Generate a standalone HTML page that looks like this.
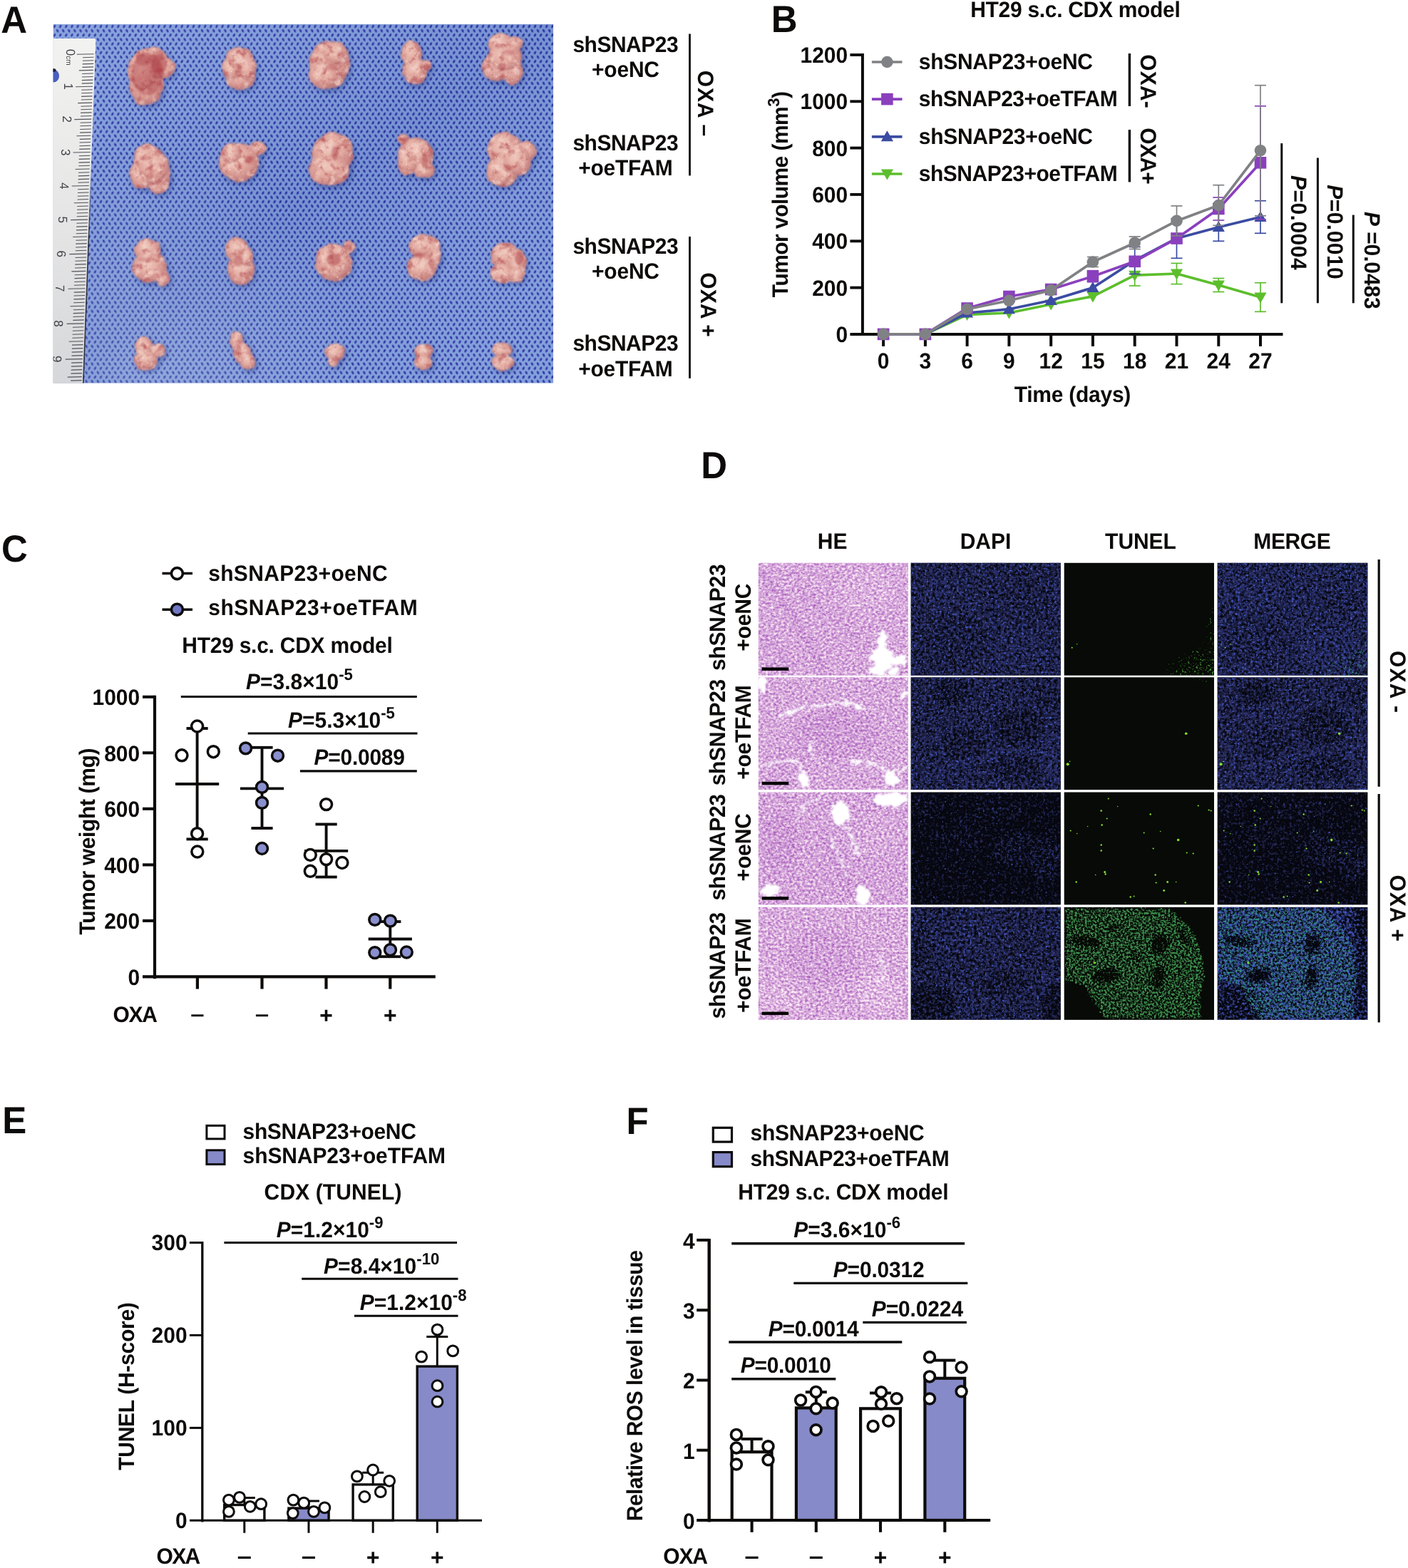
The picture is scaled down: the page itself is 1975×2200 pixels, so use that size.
<!DOCTYPE html>
<html lang="en"><head><meta charset="utf-8"><title>Figure</title>
<style>
html,body{margin:0;padding:0;background:#fff}
body{width:1975px;height:2200px;overflow:hidden}
svg{display:block}
</style></head><body>
<svg width="1975" height="2200" viewBox="0 0 1975 2200" font-family="'Liberation Sans', Arial, Helvetica, sans-serif" font-weight="bold" fill="#0d0b0a" text-rendering="geometricPrecision">
<defs>
<clipPath id="aclip"><rect x="74.5" y="34.0" width="701.8" height="503.7"/></clipPath>
<radialGradient id="dotg"><stop offset="0" stop-color="#28289c" stop-opacity="1"/><stop offset="0.5" stop-color="#2e34a6" stop-opacity="0.92"/><stop offset="1" stop-color="#4a68c0" stop-opacity="0"/></radialGradient>
<pattern id="cloth" x="74.5" y="34" width="8.12" height="12.3" patternUnits="userSpaceOnUse"><rect width="8.12" height="12.3" fill="#829fdb"/><ellipse cx="2.03" cy="3.07" rx="2.15" ry="3.5" fill="url(#dotg)" transform="rotate(28 2.03 3.07)"/><ellipse cx="6.09" cy="9.22" rx="2.15" ry="3.5" fill="url(#dotg)" transform="rotate(-28 6.09 9.22)"/></pattern>
<linearGradient id="clothsh" x1="0" y1="0" x2="1" y2="1"><stop offset="0" stop-color="#ffffff" stop-opacity="0.06"/><stop offset="0.5" stop-color="#1a2a80" stop-opacity="0.10"/><stop offset="1" stop-color="#ffffff" stop-opacity="0.02"/></linearGradient>
<radialGradient id="clothlt" cx="200" cy="520" r="300" gradientUnits="userSpaceOnUse"><stop offset="0" stop-color="#dfe8f8" stop-opacity="0.20"/><stop offset="1" stop-color="#dfe8f8" stop-opacity="0"/></radialGradient>
<linearGradient id="edgeg" x1="0" y1="240" x2="0" y2="340" gradientUnits="userSpaceOnUse"><stop offset="0" stop-color="#15151c" stop-opacity="0"/><stop offset="1" stop-color="#15151c" stop-opacity="0.8"/></linearGradient>
<linearGradient id="rulerg" x1="0" y1="0" x2="0" y2="1"><stop offset="0" stop-color="#f2f2f0"/><stop offset="0.5" stop-color="#e6e6e6"/><stop offset="1" stop-color="#d6d7da"/></linearGradient>
<radialGradient id="lobe" cx="0.42" cy="0.38" r="0.62"><stop offset="0" stop-color="#f0cbc0"/><stop offset="0.45" stop-color="#e5aea4"/><stop offset="0.85" stop-color="#d08f8a"/><stop offset="1" stop-color="#bd7a7a"/></radialGradient>
<filter id="tblur" x="-20%" y="-20%" width="140%" height="140%" color-interpolation-filters="sRGB"><feTurbulence type="fractalNoise" baseFrequency="0.07" numOctaves="2" seed="7" result="n"/><feDisplacementMap in="SourceGraphic" in2="n" scale="5" xChannelSelector="R" yChannelSelector="G" result="d"/><feGaussianBlur in="d" stdDeviation="0.8" result="db"/><feTurbulence type="fractalNoise" baseFrequency="0.10" numOctaves="3" seed="4" result="n2"/><feColorMatrix in="n2" type="matrix" values="0 0 0 0 0.70  0 0 0 0 0.30  0 0 0 0 0.32  2.0 0 0 0 -1.0" result="red"/><feComposite in="red" in2="db" operator="in" result="redc"/><feColorMatrix in="n2" type="matrix" values="0 0 0 0 0.97  0 0 0 0 0.86  0 0 0 0 0.82  0 2.0 0 0 -1.0" result="lit"/><feComposite in="lit" in2="db" operator="in" result="litc"/><feMorphology in="db" operator="erode" radius="3" result="core"/><feTurbulence type="fractalNoise" baseFrequency="0.45" numOctaves="2" seed="9" result="n3"/><feColorMatrix in="n3" type="matrix" values="0 0 0 0 1  0 0 0 0 0.97  0 0 0 0 0.95  7 0 0 0 -5.15" result="spec"/><feComposite in="spec" in2="core" operator="in" result="specc"/><feMerge><feMergeNode in="db"/><feMergeNode in="redc"/><feMergeNode in="litc"/><feMergeNode in="specc"/></feMerge></filter>
<filter id="b3" x="-30%" y="-30%" width="160%" height="160%"><feGaussianBlur stdDeviation="3"/></filter>
<filter id="b2" x="-30%" y="-30%" width="160%" height="160%"><feGaussianBlur stdDeviation="1.6"/></filter>
<filter id="b1" x="-30%" y="-30%" width="160%" height="160%"><feGaussianBlur stdDeviation="0.7"/></filter>
<filter id="voidf" x="-20%" y="-20%" width="140%" height="140%" color-interpolation-filters="sRGB"><feTurbulence type="fractalNoise" baseFrequency="0.12" numOctaves="3" seed="11" result="n"/><feDisplacementMap in="SourceGraphic" in2="n" scale="14" xChannelSelector="R" yChannelSelector="G" result="d"/><feGaussianBlur in="d" stdDeviation="0.8"/></filter>
<clipPath id="dc00"><rect x="1063.8" y="789.8" width="210.1" height="157.9"/></clipPath>
<clipPath id="dc01"><rect x="1277.7" y="789.8" width="210.2" height="157.9"/></clipPath>
<clipPath id="dc02"><rect x="1492.7" y="789.8" width="210.3" height="157.9"/></clipPath>
<clipPath id="dc03"><rect x="1707.7" y="789.8" width="210.7" height="157.9"/></clipPath>
<clipPath id="dc10"><rect x="1063.8" y="950.3" width="210.1" height="157.8"/></clipPath>
<clipPath id="dc11"><rect x="1277.7" y="950.3" width="210.2" height="157.8"/></clipPath>
<clipPath id="dc12"><rect x="1492.7" y="950.3" width="210.3" height="157.8"/></clipPath>
<clipPath id="dc13"><rect x="1707.7" y="950.3" width="210.7" height="157.8"/></clipPath>
<clipPath id="dc20"><rect x="1063.8" y="1111.5" width="210.1" height="157.9"/></clipPath>
<clipPath id="dc21"><rect x="1277.7" y="1111.5" width="210.2" height="157.9"/></clipPath>
<clipPath id="dc22"><rect x="1492.7" y="1111.5" width="210.3" height="157.9"/></clipPath>
<clipPath id="dc23"><rect x="1707.7" y="1111.5" width="210.7" height="157.9"/></clipPath>
<clipPath id="dc30"><rect x="1063.8" y="1272.8" width="210.1" height="158.1"/></clipPath>
<clipPath id="dc31"><rect x="1277.7" y="1272.8" width="210.2" height="158.1"/></clipPath>
<clipPath id="dc32"><rect x="1492.7" y="1272.8" width="210.3" height="158.1"/></clipPath>
<clipPath id="dc33"><rect x="1707.7" y="1272.8" width="210.7" height="158.1"/></clipPath>
<filter id="hf1" filterUnits="userSpaceOnUse" x="1063.8" y="789.8" width="210.1" height="157.9" color-interpolation-filters="sRGB"><feGaussianBlur in="SourceGraphic" stdDeviation="3" result="m0"/><feColorMatrix in="m0" type="matrix" values="0 0 0 0 0  0 1 0 0 0  0 0 0 0 0  0 0 0 0 1" result="m"/><feTurbulence type="fractalNoise" baseFrequency="0.27 0.33" numOctaves="3" seed="20" result="n0"/><feColorMatrix in="n0" type="matrix" values="1 0 0 0 0  0 0 0 0 0  0 0 0 0 0  0 0 0 0 1" result="n"/><feBlend in="n" in2="m" mode="lighten" result="c"/><feColorMatrix in="c" type="matrix" values="0.55 0.3 0 0 0.415  0.92 0.5 0 0 -0.045  0.38 0.2 0 0 0.57  0 0 0 0 1"/></filter>
<filter id="sf2" filterUnits="userSpaceOnUse" x="1277.7" y="789.8" width="210.2" height="157.9" color-interpolation-filters="sRGB"><feGaussianBlur in="SourceGraphic" stdDeviation="3" result="m0"/><feColorMatrix in="m0" type="matrix" values="0 0 0 0 0  0 1 0 0 0  0 0 0 0 0  0 0 0 0 1" result="m"/><feTurbulence type="fractalNoise" baseFrequency="0.24" numOctaves="3" seed="31" result="n0"/><feColorMatrix in="n0" type="matrix" values="1 0 0 0 0  0 0 0 0 0  0 0 0 0 0  0 0 0 0 1" result="n"/><feBlend in="n" in2="m" mode="lighten" result="c"/><feColorMatrix in="c" type="matrix" values="0 0 0 0 0.165  0 0 0 0 0.178  0 0 0 0 0.385  3 2.75 0 0 -2.75"/></filter>
<filter id="sf3" filterUnits="userSpaceOnUse" x="1277.7" y="789.8" width="210.2" height="157.9" color-interpolation-filters="sRGB"><feGaussianBlur in="SourceGraphic" stdDeviation="3" result="m0"/><feColorMatrix in="m0" type="matrix" values="0 0 0 0 0  0 1 0 0 0  0 0 0 0 0  0 0 0 0 1" result="m"/><feTurbulence type="fractalNoise" baseFrequency="0.33" numOctaves="3" seed="51" result="n0"/><feColorMatrix in="n0" type="matrix" values="1 0 0 0 0  0 0 0 0 0  0 0 0 0 0  0 0 0 0 1" result="n"/><feBlend in="n" in2="m" mode="lighten" result="c"/><feColorMatrix in="c" type="matrix" values="0 0 0 0 0.27  0 0 0 0 0.36  0 0 0 0 0.8  4 3.15 0 0 -3.65"/></filter>
<filter id="sf4" filterUnits="userSpaceOnUse" x="1492.7" y="789.8" width="210.3" height="157.9" color-interpolation-filters="sRGB"><feGaussianBlur in="SourceGraphic" stdDeviation="4" result="m0"/><feColorMatrix in="m0" type="matrix" values="0 0 0 0 0  0 1 0 0 0  0 0 0 0 0  0 0 0 0 1" result="m"/><feTurbulence type="fractalNoise" baseFrequency="0.36" numOctaves="3" seed="41" result="n0"/><feColorMatrix in="n0" type="matrix" values="1 0 0 0 0  0 0 0 0 0  0 0 0 0 0  0 0 0 0 1" result="n"/><feBlend in="n" in2="m" mode="lighten" result="c"/><feColorMatrix in="c" type="matrix" values="0 0 0 0 0.3  0 0 0 0 0.62  0 0 0 0 0.24  4.5 3.35 0 0 -4.1"/></filter>
<filter id="sf5" filterUnits="userSpaceOnUse" x="1707.7" y="789.8" width="210.7" height="157.9" color-interpolation-filters="sRGB"><feGaussianBlur in="SourceGraphic" stdDeviation="3" result="m0"/><feColorMatrix in="m0" type="matrix" values="0 0 0 0 0  0 1 0 0 0  0 0 0 0 0  0 0 0 0 1" result="m"/><feTurbulence type="fractalNoise" baseFrequency="0.24" numOctaves="3" seed="31" result="n0"/><feColorMatrix in="n0" type="matrix" values="1 0 0 0 0  0 0 0 0 0  0 0 0 0 0  0 0 0 0 1" result="n"/><feBlend in="n" in2="m" mode="lighten" result="c"/><feColorMatrix in="c" type="matrix" values="0 0 0 0 0.17  0 0 0 0 0.19  0 0 0 0 0.42  3 2.75 0 0 -2.75"/></filter>
<filter id="sf6" filterUnits="userSpaceOnUse" x="1707.7" y="789.8" width="210.7" height="157.9" color-interpolation-filters="sRGB"><feGaussianBlur in="SourceGraphic" stdDeviation="3" result="m0"/><feColorMatrix in="m0" type="matrix" values="0 0 0 0 0  0 1 0 0 0  0 0 0 0 0  0 0 0 0 1" result="m"/><feTurbulence type="fractalNoise" baseFrequency="0.33" numOctaves="3" seed="51" result="n0"/><feColorMatrix in="n0" type="matrix" values="1 0 0 0 0  0 0 0 0 0  0 0 0 0 0  0 0 0 0 1" result="n"/><feBlend in="n" in2="m" mode="lighten" result="c"/><feColorMatrix in="c" type="matrix" values="0 0 0 0 0.27  0 0 0 0 0.36  0 0 0 0 0.8  4 3.15 0 0 -3.65"/></filter>
<filter id="sf7" filterUnits="userSpaceOnUse" x="1707.7" y="789.8" width="210.7" height="157.9" color-interpolation-filters="sRGB"><feGaussianBlur in="SourceGraphic" stdDeviation="4" result="m0"/><feColorMatrix in="m0" type="matrix" values="0 0 0 0 0  0 1 0 0 0  0 0 0 0 0  0 0 0 0 1" result="m"/><feTurbulence type="fractalNoise" baseFrequency="0.28" numOctaves="3" seed="41" result="n0"/><feColorMatrix in="n0" type="matrix" values="1 0 0 0 0  0 0 0 0 0  0 0 0 0 0  0 0 0 0 1" result="n"/><feBlend in="n" in2="m" mode="lighten" result="c"/><feColorMatrix in="c" type="matrix" values="0 0 0 0 0.2  0 0 0 0 0.6  0 0 0 0 0.5  4.5 3.35 0 0 -4.1"/></filter>
<filter id="hf8" filterUnits="userSpaceOnUse" x="1063.8" y="950.3" width="210.1" height="157.8" color-interpolation-filters="sRGB"><feGaussianBlur in="SourceGraphic" stdDeviation="3" result="m0"/><feColorMatrix in="m0" type="matrix" values="0 0 0 0 0  0 1 0 0 0  0 0 0 0 0  0 0 0 0 1" result="m"/><feTurbulence type="fractalNoise" baseFrequency="0.27 0.33" numOctaves="3" seed="21" result="n0"/><feColorMatrix in="n0" type="matrix" values="1 0 0 0 0  0 0 0 0 0  0 0 0 0 0  0 0 0 0 1" result="n"/><feBlend in="n" in2="m" mode="lighten" result="c"/><feColorMatrix in="c" type="matrix" values="0.55 0.3 0 0 0.415  0.92 0.5 0 0 -0.045  0.38 0.2 0 0 0.57  0 0 0 0 1"/></filter>
<filter id="sf9" filterUnits="userSpaceOnUse" x="1277.7" y="950.3" width="210.2" height="157.8" color-interpolation-filters="sRGB"><feGaussianBlur in="SourceGraphic" stdDeviation="3" result="m0"/><feColorMatrix in="m0" type="matrix" values="0 0 0 0 0  0 1 0 0 0  0 0 0 0 0  0 0 0 0 1" result="m"/><feTurbulence type="fractalNoise" baseFrequency="0.24" numOctaves="3" seed="32" result="n0"/><feColorMatrix in="n0" type="matrix" values="1 0 0 0 0  0 0 0 0 0  0 0 0 0 0  0 0 0 0 1" result="n"/><feBlend in="n" in2="m" mode="lighten" result="c"/><feColorMatrix in="c" type="matrix" values="0 0 0 0 0.165  0 0 0 0 0.178  0 0 0 0 0.385  3 2.75 0 0 -2.75"/></filter>
<filter id="sf10" filterUnits="userSpaceOnUse" x="1277.7" y="950.3" width="210.2" height="157.8" color-interpolation-filters="sRGB"><feGaussianBlur in="SourceGraphic" stdDeviation="3" result="m0"/><feColorMatrix in="m0" type="matrix" values="0 0 0 0 0  0 1 0 0 0  0 0 0 0 0  0 0 0 0 1" result="m"/><feTurbulence type="fractalNoise" baseFrequency="0.33" numOctaves="3" seed="52" result="n0"/><feColorMatrix in="n0" type="matrix" values="1 0 0 0 0  0 0 0 0 0  0 0 0 0 0  0 0 0 0 1" result="n"/><feBlend in="n" in2="m" mode="lighten" result="c"/><feColorMatrix in="c" type="matrix" values="0 0 0 0 0.27  0 0 0 0 0.36  0 0 0 0 0.8  4 3.15 0 0 -3.65"/></filter>
<filter id="sf11" filterUnits="userSpaceOnUse" x="1492.7" y="950.3" width="210.3" height="157.8" color-interpolation-filters="sRGB"><feGaussianBlur in="SourceGraphic" stdDeviation="4" result="m0"/><feColorMatrix in="m0" type="matrix" values="0 0 0 0 0  0 1 0 0 0  0 0 0 0 0  0 0 0 0 1" result="m"/><feTurbulence type="fractalNoise" baseFrequency="0.36" numOctaves="3" seed="42" result="n0"/><feColorMatrix in="n0" type="matrix" values="1 0 0 0 0  0 0 0 0 0  0 0 0 0 0  0 0 0 0 1" result="n"/><feBlend in="n" in2="m" mode="lighten" result="c"/><feColorMatrix in="c" type="matrix" values="0 0 0 0 0.3  0 0 0 0 0.62  0 0 0 0 0.24  4.5 3.35 0 0 -4.1"/></filter>
<filter id="sf12" filterUnits="userSpaceOnUse" x="1707.7" y="950.3" width="210.7" height="157.8" color-interpolation-filters="sRGB"><feGaussianBlur in="SourceGraphic" stdDeviation="3" result="m0"/><feColorMatrix in="m0" type="matrix" values="0 0 0 0 0  0 1 0 0 0  0 0 0 0 0  0 0 0 0 1" result="m"/><feTurbulence type="fractalNoise" baseFrequency="0.24" numOctaves="3" seed="32" result="n0"/><feColorMatrix in="n0" type="matrix" values="1 0 0 0 0  0 0 0 0 0  0 0 0 0 0  0 0 0 0 1" result="n"/><feBlend in="n" in2="m" mode="lighten" result="c"/><feColorMatrix in="c" type="matrix" values="0 0 0 0 0.165  0 0 0 0 0.178  0 0 0 0 0.385  3 2.75 0 0 -2.75"/></filter>
<filter id="sf13" filterUnits="userSpaceOnUse" x="1707.7" y="950.3" width="210.7" height="157.8" color-interpolation-filters="sRGB"><feGaussianBlur in="SourceGraphic" stdDeviation="3" result="m0"/><feColorMatrix in="m0" type="matrix" values="0 0 0 0 0  0 1 0 0 0  0 0 0 0 0  0 0 0 0 1" result="m"/><feTurbulence type="fractalNoise" baseFrequency="0.33" numOctaves="3" seed="52" result="n0"/><feColorMatrix in="n0" type="matrix" values="1 0 0 0 0  0 0 0 0 0  0 0 0 0 0  0 0 0 0 1" result="n"/><feBlend in="n" in2="m" mode="lighten" result="c"/><feColorMatrix in="c" type="matrix" values="0 0 0 0 0.27  0 0 0 0 0.36  0 0 0 0 0.8  4 3.15 0 0 -3.65"/></filter>
<filter id="hf14" filterUnits="userSpaceOnUse" x="1063.8" y="1111.5" width="210.1" height="157.9" color-interpolation-filters="sRGB"><feGaussianBlur in="SourceGraphic" stdDeviation="3" result="m0"/><feColorMatrix in="m0" type="matrix" values="0 0 0 0 0  0 1 0 0 0  0 0 0 0 0  0 0 0 0 1" result="m"/><feTurbulence type="fractalNoise" baseFrequency="0.27 0.33" numOctaves="3" seed="22" result="n0"/><feColorMatrix in="n0" type="matrix" values="1 0 0 0 0  0 0 0 0 0  0 0 0 0 0  0 0 0 0 1" result="n"/><feBlend in="n" in2="m" mode="lighten" result="c"/><feColorMatrix in="c" type="matrix" values="0.55 0.3 0 0 0.415  0.92 0.5 0 0 -0.045  0.38 0.2 0 0 0.57  0 0 0 0 1"/></filter>
<filter id="sf15" filterUnits="userSpaceOnUse" x="1277.7" y="1111.5" width="210.2" height="157.9" color-interpolation-filters="sRGB"><feGaussianBlur in="SourceGraphic" stdDeviation="3" result="m0"/><feColorMatrix in="m0" type="matrix" values="0 0 0 0 0  0 1 0 0 0  0 0 0 0 0  0 0 0 0 1" result="m"/><feTurbulence type="fractalNoise" baseFrequency="0.24" numOctaves="3" seed="33" result="n0"/><feColorMatrix in="n0" type="matrix" values="1 0 0 0 0  0 0 0 0 0  0 0 0 0 0  0 0 0 0 1" result="n"/><feBlend in="n" in2="m" mode="lighten" result="c"/><feColorMatrix in="c" type="matrix" values="0 0 0 0 0.165  0 0 0 0 0.178  0 0 0 0 0.385  3 2.75 0 0 -2.75"/></filter>
<filter id="sf16" filterUnits="userSpaceOnUse" x="1277.7" y="1111.5" width="210.2" height="157.9" color-interpolation-filters="sRGB"><feGaussianBlur in="SourceGraphic" stdDeviation="3" result="m0"/><feColorMatrix in="m0" type="matrix" values="0 0 0 0 0  0 1 0 0 0  0 0 0 0 0  0 0 0 0 1" result="m"/><feTurbulence type="fractalNoise" baseFrequency="0.33" numOctaves="3" seed="53" result="n0"/><feColorMatrix in="n0" type="matrix" values="1 0 0 0 0  0 0 0 0 0  0 0 0 0 0  0 0 0 0 1" result="n"/><feBlend in="n" in2="m" mode="lighten" result="c"/><feColorMatrix in="c" type="matrix" values="0 0 0 0 0.27  0 0 0 0 0.36  0 0 0 0 0.8  4 3.15 0 0 -3.65"/></filter>
<filter id="sf17" filterUnits="userSpaceOnUse" x="1707.7" y="1111.5" width="210.7" height="157.9" color-interpolation-filters="sRGB"><feGaussianBlur in="SourceGraphic" stdDeviation="3" result="m0"/><feColorMatrix in="m0" type="matrix" values="0 0 0 0 0  0 1 0 0 0  0 0 0 0 0  0 0 0 0 1" result="m"/><feTurbulence type="fractalNoise" baseFrequency="0.24" numOctaves="3" seed="33" result="n0"/><feColorMatrix in="n0" type="matrix" values="1 0 0 0 0  0 0 0 0 0  0 0 0 0 0  0 0 0 0 1" result="n"/><feBlend in="n" in2="m" mode="lighten" result="c"/><feColorMatrix in="c" type="matrix" values="0 0 0 0 0.165  0 0 0 0 0.178  0 0 0 0 0.385  3 2.75 0 0 -2.75"/></filter>
<filter id="sf18" filterUnits="userSpaceOnUse" x="1707.7" y="1111.5" width="210.7" height="157.9" color-interpolation-filters="sRGB"><feGaussianBlur in="SourceGraphic" stdDeviation="3" result="m0"/><feColorMatrix in="m0" type="matrix" values="0 0 0 0 0  0 1 0 0 0  0 0 0 0 0  0 0 0 0 1" result="m"/><feTurbulence type="fractalNoise" baseFrequency="0.33" numOctaves="3" seed="53" result="n0"/><feColorMatrix in="n0" type="matrix" values="1 0 0 0 0  0 0 0 0 0  0 0 0 0 0  0 0 0 0 1" result="n"/><feBlend in="n" in2="m" mode="lighten" result="c"/><feColorMatrix in="c" type="matrix" values="0 0 0 0 0.27  0 0 0 0 0.36  0 0 0 0 0.8  4 3.15 0 0 -3.65"/></filter>
<filter id="hf19" filterUnits="userSpaceOnUse" x="1063.8" y="1272.8" width="210.1" height="158.1" color-interpolation-filters="sRGB"><feGaussianBlur in="SourceGraphic" stdDeviation="3" result="m0"/><feColorMatrix in="m0" type="matrix" values="0 0 0 0 0  0 1 0 0 0  0 0 0 0 0  0 0 0 0 1" result="m"/><feTurbulence type="fractalNoise" baseFrequency="0.27 0.33" numOctaves="3" seed="23" result="n0"/><feColorMatrix in="n0" type="matrix" values="1 0 0 0 0  0 0 0 0 0  0 0 0 0 0  0 0 0 0 1" result="n"/><feBlend in="n" in2="m" mode="lighten" result="c"/><feColorMatrix in="c" type="matrix" values="0.55 0.3 0 0 0.415  0.92 0.5 0 0 -0.045  0.38 0.2 0 0 0.57  0 0 0 0 1"/></filter>
<filter id="sf20" filterUnits="userSpaceOnUse" x="1277.7" y="1272.8" width="210.2" height="158.1" color-interpolation-filters="sRGB"><feGaussianBlur in="SourceGraphic" stdDeviation="3" result="m0"/><feColorMatrix in="m0" type="matrix" values="0 0 0 0 0  0 1 0 0 0  0 0 0 0 0  0 0 0 0 1" result="m"/><feTurbulence type="fractalNoise" baseFrequency="0.24" numOctaves="3" seed="34" result="n0"/><feColorMatrix in="n0" type="matrix" values="1 0 0 0 0  0 0 0 0 0  0 0 0 0 0  0 0 0 0 1" result="n"/><feBlend in="n" in2="m" mode="lighten" result="c"/><feColorMatrix in="c" type="matrix" values="0 0 0 0 0.165  0 0 0 0 0.178  0 0 0 0 0.385  3 2.75 0 0 -2.75"/></filter>
<filter id="sf21" filterUnits="userSpaceOnUse" x="1277.7" y="1272.8" width="210.2" height="158.1" color-interpolation-filters="sRGB"><feGaussianBlur in="SourceGraphic" stdDeviation="3" result="m0"/><feColorMatrix in="m0" type="matrix" values="0 0 0 0 0  0 1 0 0 0  0 0 0 0 0  0 0 0 0 1" result="m"/><feTurbulence type="fractalNoise" baseFrequency="0.33" numOctaves="3" seed="54" result="n0"/><feColorMatrix in="n0" type="matrix" values="1 0 0 0 0  0 0 0 0 0  0 0 0 0 0  0 0 0 0 1" result="n"/><feBlend in="n" in2="m" mode="lighten" result="c"/><feColorMatrix in="c" type="matrix" values="0 0 0 0 0.27  0 0 0 0 0.36  0 0 0 0 0.8  4 3.15 0 0 -3.65"/></filter>
<filter id="sf22" filterUnits="userSpaceOnUse" x="1492.7" y="1272.8" width="210.3" height="158.1" color-interpolation-filters="sRGB"><feGaussianBlur in="SourceGraphic" stdDeviation="2" result="m0"/><feColorMatrix in="m0" type="matrix" values="0 0 0 0 0  0 1 0 0 0  0 0 0 0 0  0 0 0 0 1" result="m"/><feTurbulence type="fractalNoise" baseFrequency="0.36" numOctaves="3" seed="44" result="n0"/><feColorMatrix in="n0" type="matrix" values="1 0 0 0 0  0 0 0 0 0  0 0 0 0 0  0 0 0 0 1" result="n"/><feBlend in="n" in2="m" mode="lighten" result="c"/><feColorMatrix in="c" type="matrix" values="0 0 0 0 0.235  0 0 0 0 0.56  0 0 0 0 0.3  4.5 3.35 0 0 -4.1"/></filter>
<filter id="sf23" filterUnits="userSpaceOnUse" x="1707.7" y="1272.8" width="210.7" height="158.1" color-interpolation-filters="sRGB"><feGaussianBlur in="SourceGraphic" stdDeviation="3" result="m0"/><feColorMatrix in="m0" type="matrix" values="0 0 0 0 0  0 1 0 0 0  0 0 0 0 0  0 0 0 0 1" result="m"/><feTurbulence type="fractalNoise" baseFrequency="0.28" numOctaves="3" seed="34" result="n0"/><feColorMatrix in="n0" type="matrix" values="1 0 0 0 0  0 0 0 0 0  0 0 0 0 0  0 0 0 0 1" result="n"/><feBlend in="n" in2="m" mode="lighten" result="c"/><feColorMatrix in="c" type="matrix" values="0 0 0 0 0.26  0 0 0 0 0.34  0 0 0 0 0.76  3 2.75 0 0 -2.75"/></filter>
<filter id="sf24" filterUnits="userSpaceOnUse" x="1707.7" y="1272.8" width="210.7" height="158.1" color-interpolation-filters="sRGB"><feGaussianBlur in="SourceGraphic" stdDeviation="2" result="m0"/><feColorMatrix in="m0" type="matrix" values="0 0 0 0 0  0 1 0 0 0  0 0 0 0 0  0 0 0 0 1" result="m"/><feTurbulence type="fractalNoise" baseFrequency="0.36" numOctaves="3" seed="44" result="n0"/><feColorMatrix in="n0" type="matrix" values="1 0 0 0 0  0 0 0 0 0  0 0 0 0 0  0 0 0 0 1" result="n"/><feBlend in="n" in2="m" mode="lighten" result="c"/><feColorMatrix in="c" type="matrix" values="0 0 0 0 0.2  0 0 0 0 0.55  0 0 0 0 0.52  4.5 3.35 0 0 -4.1"/></filter>
</defs>
<g id="panel_a"><text transform="translate(1.3 45.5) scale(1 1.04)" font-size="51">A</text>
<g clip-path="url(#aclip)">
<rect x="74.5" y="34.0" width="701.8" height="503.7" fill="url(#cloth)"/>
<rect x="74.5" y="34.0" width="701.8" height="503.7" fill="url(#clothsh)"/>
<rect x="74.5" y="34.0" width="701.8" height="503.7" fill="url(#clothlt)"/>
<path d="M72.5 54 L131.5 54 Q134.5 54 134.4 57 L116.4 539.7 L72.5 539.7 Z" fill="url(#rulerg)"/>
<path d="M127.9 240 L116.8 537.7" stroke="url(#edgeg)" stroke-width="1.6" fill="none" filter="url(#b1)"/>
<ellipse cx="75.5" cy="106.5" rx="7.5" ry="9" fill="#4a5fbe" filter="url(#b1)"/>
<ellipse cx="74.5" cy="98.5" rx="4" ry="2.5" fill="#1c1c30" filter="url(#b1)"/>
<path d="M107.7 76.3L131.7 75.8M116.0 80.8L131.5 80.3M115.9 85.3L131.4 84.8M115.7 89.9L131.2 89.4M115.5 94.4L131.0 93.9M110.8 98.9L130.8 98.4M115.2 103.5L130.7 103.0M115.0 108.0L130.5 107.5M114.8 112.6L130.3 112.1M114.7 117.1L130.2 116.6M106.0 121.7L130.0 121.2M114.3 126.2L129.8 125.7M114.2 130.8L129.7 130.3M114.0 135.4L129.5 134.9M113.8 140.0L129.3 139.5M109.2 144.6L129.2 144.1M113.5 149.2L129.0 148.7M113.3 153.8L128.8 153.3M113.1 158.4L128.6 157.9M113.0 163.0L128.5 162.5M104.3 167.6L128.3 167.1M112.6 172.2L128.1 171.7M112.5 176.8L128.0 176.3M112.3 181.5L127.8 181.0M112.1 186.1L127.6 185.6M107.4 190.7L127.4 190.2M111.8 195.4L127.3 194.9M111.6 200.0L127.1 199.5M111.4 204.7L126.9 204.2M111.2 209.4L126.7 208.9M102.6 214.0L126.6 213.5M110.9 218.7L126.4 218.2M110.7 223.4L126.2 222.9M110.5 228.1L126.0 227.6M110.4 232.8L125.9 232.3M105.7 237.5L125.7 237.0M110.0 242.2L125.5 241.7M109.8 246.9L125.3 246.4M109.7 251.6L125.2 251.1M109.5 256.3L125.0 255.8M100.8 261.0L124.8 260.5M109.1 265.7L124.6 265.2M109.0 270.5L124.5 270.0M108.8 275.2L124.3 274.7M108.6 280.0L124.1 279.5M103.9 284.7L123.9 284.2M108.3 289.5L123.8 289.0M108.1 294.2L123.6 293.7M107.9 299.0L123.4 298.5M107.7 303.8L123.2 303.3M99.1 308.6L123.1 308.1M107.4 313.3L122.9 312.8M107.2 318.1L122.7 317.6M107.0 322.9L122.5 322.4M106.8 327.7L122.3 327.2M102.2 332.5L122.2 332.0M106.5 337.3L122.0 336.8M106.3 342.1L121.8 341.6M106.1 347.0L121.6 346.5M105.9 351.8L121.4 351.3M97.3 356.6L121.3 356.1M105.6 361.5L121.1 361.0M105.4 366.3L120.9 365.8M105.2 371.1L120.7 370.6M105.0 376.0L120.5 375.5M100.4 380.9L120.4 380.4M104.7 385.7L120.2 385.2M104.5 390.6L120.0 390.1M104.3 395.5L119.8 395.0M104.1 400.3L119.6 399.8M95.5 405.2L119.5 404.7M103.8 410.1L119.3 409.6M103.6 415.0L119.1 414.5M103.4 419.9L118.9 419.4M103.2 424.8L118.7 424.3M98.5 429.7L118.5 429.2M102.9 434.7L118.4 434.2M102.7 439.6L118.2 439.1M102.5 444.5L118.0 444.0M102.3 449.4L117.8 448.9M93.6 454.4L117.6 453.9M101.9 459.3L117.4 458.8M101.8 464.3L117.3 463.8M101.6 469.2L117.1 468.7M101.4 474.2L116.9 473.7M96.7 479.2L116.7 478.7M101.0 484.1L116.5 483.6M100.8 489.1L116.3 488.6M100.7 494.1L116.2 493.6M100.5 499.1L116.0 498.6M91.8 504.1L115.8 503.6M100.1 509.1L115.6 508.6M99.9 514.1L115.4 513.6M99.7 519.1L115.2 518.6M99.5 524.1L115.0 523.6M94.8 529.1L114.8 528.6M99.2 534.1L114.7 533.6" stroke="#3c3c44" stroke-width="1.15" fill="none" opacity="0.85"/>
<text transform="translate(92.5 68.8) rotate(90) scale(1 1.04)" font-size="17" fill="#44444c" font-weight="normal">0<tspan font-size="10">cm</tspan></text>
<text transform="translate(89.6 116.6) rotate(90) scale(1 1.04)" font-size="17" fill="#44444c" font-weight="normal">1</text>
<text transform="translate(87.7 162.5) rotate(90) scale(1 1.04)" font-size="17" fill="#44444c" font-weight="normal">2</text>
<text transform="translate(85.8 208.9) rotate(90) scale(1 1.04)" font-size="17" fill="#44444c" font-weight="normal">3</text>
<text transform="translate(83.9 255.9) rotate(90) scale(1 1.04)" font-size="17" fill="#44444c" font-weight="normal">4</text>
<text transform="translate(82.0 303.4) rotate(90) scale(1 1.04)" font-size="17" fill="#44444c" font-weight="normal">5</text>
<text transform="translate(80.1 351.5) rotate(90) scale(1 1.04)" font-size="17" fill="#44444c" font-weight="normal">6</text>
<text transform="translate(78.2 400.1) rotate(90) scale(1 1.04)" font-size="17" fill="#44444c" font-weight="normal">7</text>
<text transform="translate(76.3 449.3) rotate(90) scale(1 1.04)" font-size="17" fill="#44444c" font-weight="normal">8</text>
<text transform="translate(74.4 499.0) rotate(90) scale(1 1.04)" font-size="17" fill="#44444c" font-weight="normal">9</text>
<g fill="#1b2a78" opacity="0.38" filter="url(#b3)"><ellipse cx="207.5" cy="121.0" rx="25.0" ry="31.0"/><ellipse cx="214.5" cy="93.0" rx="27.0" ry="25.0"/><ellipse cx="234.5" cy="98.0" rx="14.0" ry="15.0"/><ellipse cx="202.5" cy="103.0" rx="21.0" ry="29.0"/></g>
<g filter="url(#tblur)"><ellipse cx="205.0" cy="118.0" rx="24.0" ry="30.0" fill="#d09490"/><ellipse cx="212.0" cy="90.0" rx="26.0" ry="24.0" fill="#d09490"/><ellipse cx="232.0" cy="95.0" rx="13.0" ry="14.0" fill="#d09490"/><ellipse cx="200.0" cy="100.0" rx="20.0" ry="28.0" fill="#d09490"/><ellipse cx="205.0" cy="118.0" rx="23.0" ry="29.0" fill="url(#lobe)"/><ellipse cx="212.0" cy="90.0" rx="25.0" ry="23.0" fill="url(#lobe)"/><ellipse cx="232.0" cy="95.0" rx="12.0" ry="13.0" fill="url(#lobe)"/><ellipse cx="200.0" cy="100.0" rx="19.0" ry="27.0" fill="url(#lobe)"/></g>
<ellipse cx="207.0" cy="104.0" rx="22.0" ry="30.0" fill="#a8343c" opacity="0.42" filter="url(#b2)"/>
<ellipse cx="223.0" cy="90.0" rx="11.0" ry="14.0" fill="#a8343c" opacity="0.55" filter="url(#b2)"/>
<ellipse cx="200.0" cy="84.0" rx="10.0" ry="8.0" fill="#a8343c" opacity="0.35" filter="url(#b2)"/>
<g fill="#1b2a78" opacity="0.38" filter="url(#b3)"><ellipse cx="337.5" cy="87.0" rx="21.0" ry="19.0"/><ellipse cx="339.5" cy="111.0" rx="22.0" ry="19.0"/><ellipse cx="326.5" cy="99.0" rx="13.0" ry="19.0"/><ellipse cx="349.5" cy="98.0" rx="13.0" ry="19.0"/></g>
<g filter="url(#tblur)"><ellipse cx="335.0" cy="84.0" rx="20.0" ry="18.0" fill="#d09490"/><ellipse cx="337.0" cy="108.0" rx="21.0" ry="18.0" fill="#d09490"/><ellipse cx="324.0" cy="96.0" rx="12.0" ry="18.0" fill="#d09490"/><ellipse cx="347.0" cy="95.0" rx="12.0" ry="18.0" fill="#d09490"/><ellipse cx="335.0" cy="84.0" rx="19.0" ry="17.0" fill="url(#lobe)"/><ellipse cx="337.0" cy="108.0" rx="20.0" ry="17.0" fill="url(#lobe)"/><ellipse cx="324.0" cy="96.0" rx="11.0" ry="17.0" fill="url(#lobe)"/><ellipse cx="347.0" cy="95.0" rx="11.0" ry="17.0" fill="url(#lobe)"/></g>
<ellipse cx="334.0" cy="98.0" rx="4.0" ry="9.0" fill="#a8343c" opacity="0.30" filter="url(#b2)"/>
<g fill="#1b2a78" opacity="0.38" filter="url(#b3)"><ellipse cx="464.5" cy="94.0" rx="29.0" ry="35.0"/><ellipse cx="472.5" cy="78.0" rx="19.0" ry="17.0"/><ellipse cx="457.5" cy="108.0" rx="23.0" ry="21.0"/></g>
<g filter="url(#tblur)"><ellipse cx="462.0" cy="91.0" rx="28.0" ry="34.0" fill="#d09490"/><ellipse cx="470.0" cy="75.0" rx="18.0" ry="16.0" fill="#d09490"/><ellipse cx="455.0" cy="105.0" rx="22.0" ry="20.0" fill="#d09490"/><ellipse cx="462.0" cy="91.0" rx="27.0" ry="33.0" fill="url(#lobe)"/><ellipse cx="470.0" cy="75.0" rx="17.0" ry="15.0" fill="url(#lobe)"/><ellipse cx="455.0" cy="105.0" rx="21.0" ry="19.0" fill="url(#lobe)"/></g>
<ellipse cx="465.0" cy="94.0" rx="8.0" ry="5.0" fill="#a8343c" opacity="0.30" filter="url(#b2)"/>
<g fill="#1b2a78" opacity="0.38" filter="url(#b3)"><ellipse cx="579.5" cy="78.0" rx="15.0" ry="19.0"/><ellipse cx="584.5" cy="103.0" rx="18.0" ry="20.0"/><ellipse cx="599.5" cy="95.0" rx="9.0" ry="9.0"/></g>
<g filter="url(#tblur)"><ellipse cx="577.0" cy="75.0" rx="14.0" ry="18.0" fill="#d09490"/><ellipse cx="582.0" cy="100.0" rx="17.0" ry="19.0" fill="#d09490"/><ellipse cx="597.0" cy="92.0" rx="8.0" ry="8.0" fill="#d09490"/><ellipse cx="577.0" cy="75.0" rx="13.0" ry="17.0" fill="url(#lobe)"/><ellipse cx="582.0" cy="100.0" rx="16.0" ry="18.0" fill="url(#lobe)"/><ellipse cx="597.0" cy="92.0" rx="7.0" ry="7.0" fill="url(#lobe)"/></g>
<ellipse cx="598.0" cy="94.0" rx="5.0" ry="5.0" fill="#a8343c" opacity="0.50" filter="url(#b2)"/>
<ellipse cx="580.0" cy="112.0" rx="5.0" ry="3.0" fill="#a8343c" opacity="0.40" filter="url(#b2)"/>
<g fill="#1b2a78" opacity="0.38" filter="url(#b3)"><ellipse cx="705.5" cy="65.0" rx="19.0" ry="16.0"/><ellipse cx="724.5" cy="65.0" rx="12.0" ry="12.0"/><ellipse cx="699.5" cy="95.0" rx="21.0" ry="23.0"/><ellipse cx="720.5" cy="101.0" rx="17.0" ry="21.0"/><ellipse cx="710.5" cy="83.0" rx="25.0" ry="21.0"/></g>
<g filter="url(#tblur)"><ellipse cx="703.0" cy="62.0" rx="18.0" ry="15.0" fill="#d09490"/><ellipse cx="722.0" cy="62.0" rx="11.0" ry="11.0" fill="#d09490"/><ellipse cx="697.0" cy="92.0" rx="20.0" ry="22.0" fill="#d09490"/><ellipse cx="718.0" cy="98.0" rx="16.0" ry="20.0" fill="#d09490"/><ellipse cx="708.0" cy="80.0" rx="24.0" ry="20.0" fill="#d09490"/><ellipse cx="703.0" cy="62.0" rx="17.0" ry="14.0" fill="url(#lobe)"/><ellipse cx="722.0" cy="62.0" rx="10.0" ry="10.0" fill="url(#lobe)"/><ellipse cx="697.0" cy="92.0" rx="19.0" ry="21.0" fill="url(#lobe)"/><ellipse cx="718.0" cy="98.0" rx="15.0" ry="19.0" fill="url(#lobe)"/><ellipse cx="708.0" cy="80.0" rx="23.0" ry="19.0" fill="url(#lobe)"/></g>
<ellipse cx="712.0" cy="74.0" rx="10.0" ry="4.0" fill="#a8343c" opacity="0.30" filter="url(#b2)"/>
<g fill="#1b2a78" opacity="0.38" filter="url(#b3)"><ellipse cx="209.5" cy="225.0" rx="21.0" ry="21.0"/><ellipse cx="202.5" cy="248.0" rx="19.0" ry="21.0"/><ellipse cx="224.5" cy="253.0" rx="18.0" ry="23.0"/><ellipse cx="217.5" cy="238.0" rx="23.0" ry="26.0"/></g>
<g filter="url(#tblur)"><ellipse cx="207.0" cy="222.0" rx="20.0" ry="20.0" fill="#d09490"/><ellipse cx="200.0" cy="245.0" rx="18.0" ry="20.0" fill="#d09490"/><ellipse cx="222.0" cy="250.0" rx="17.0" ry="22.0" fill="#d09490"/><ellipse cx="215.0" cy="235.0" rx="22.0" ry="25.0" fill="#d09490"/><ellipse cx="207.0" cy="222.0" rx="19.0" ry="19.0" fill="url(#lobe)"/><ellipse cx="200.0" cy="245.0" rx="17.0" ry="19.0" fill="url(#lobe)"/><ellipse cx="222.0" cy="250.0" rx="16.0" ry="21.0" fill="url(#lobe)"/><ellipse cx="215.0" cy="235.0" rx="21.0" ry="24.0" fill="url(#lobe)"/></g>
<ellipse cx="212.0" cy="238.0" rx="3.0" ry="14.0" fill="#a8343c" opacity="0.30" filter="url(#b2)"/>
<ellipse cx="205.0" cy="222.0" rx="10.0" ry="3.0" fill="#a8343c" opacity="0.30" filter="url(#b2)"/>
<g fill="#1b2a78" opacity="0.38" filter="url(#b3)"><ellipse cx="337.5" cy="231.0" rx="29.0" ry="28.0"/><ellipse cx="364.5" cy="211.0" rx="12.0" ry="11.0"/><ellipse cx="327.5" cy="218.0" rx="16.0" ry="15.0"/></g>
<g filter="url(#tblur)"><ellipse cx="335.0" cy="228.0" rx="28.0" ry="27.0" fill="#d09490"/><ellipse cx="362.0" cy="208.0" rx="11.0" ry="10.0" fill="#d09490"/><ellipse cx="325.0" cy="215.0" rx="15.0" ry="14.0" fill="#d09490"/><ellipse cx="335.0" cy="228.0" rx="27.0" ry="26.0" fill="url(#lobe)"/><ellipse cx="362.0" cy="208.0" rx="10.0" ry="9.0" fill="url(#lobe)"/><ellipse cx="325.0" cy="215.0" rx="14.0" ry="13.0" fill="url(#lobe)"/></g>
<ellipse cx="350.0" cy="224.0" rx="8.0" ry="6.0" fill="#a8343c" opacity="0.40" filter="url(#b2)"/>
<g fill="#1b2a78" opacity="0.38" filter="url(#b3)"><ellipse cx="469.5" cy="218.0" rx="30.0" ry="30.0"/><ellipse cx="464.5" cy="241.0" rx="30.0" ry="24.0"/></g>
<g filter="url(#tblur)"><ellipse cx="467.0" cy="215.0" rx="29.0" ry="29.0" fill="#d09490"/><ellipse cx="462.0" cy="238.0" rx="29.0" ry="23.0" fill="#d09490"/><ellipse cx="467.0" cy="215.0" rx="28.0" ry="28.0" fill="url(#lobe)"/><ellipse cx="462.0" cy="238.0" rx="28.0" ry="22.0" fill="url(#lobe)"/></g>
<ellipse cx="470.0" cy="215.0" rx="5.0" ry="10.0" fill="#a8343c" opacity="0.45" filter="url(#b2)"/>
<g fill="#1b2a78" opacity="0.38" filter="url(#b3)"><ellipse cx="568.5" cy="198.0" rx="9.0" ry="9.0"/><ellipse cx="585.5" cy="221.0" rx="26.0" ry="26.0"/><ellipse cx="597.5" cy="241.0" rx="16.0" ry="13.0"/><ellipse cx="574.5" cy="231.0" rx="15.0" ry="19.0"/></g>
<g filter="url(#tblur)"><ellipse cx="566.0" cy="195.0" rx="8.0" ry="8.0" fill="#d09490"/><ellipse cx="583.0" cy="218.0" rx="25.0" ry="25.0" fill="#d09490"/><ellipse cx="595.0" cy="238.0" rx="15.0" ry="12.0" fill="#d09490"/><ellipse cx="572.0" cy="228.0" rx="14.0" ry="18.0" fill="#d09490"/><ellipse cx="566.0" cy="195.0" rx="7.0" ry="7.0" fill="url(#lobe)"/><ellipse cx="583.0" cy="218.0" rx="24.0" ry="24.0" fill="url(#lobe)"/><ellipse cx="595.0" cy="238.0" rx="14.0" ry="11.0" fill="url(#lobe)"/><ellipse cx="572.0" cy="228.0" rx="13.0" ry="17.0" fill="url(#lobe)"/></g>
<ellipse cx="596.0" cy="225.0" rx="4.0" ry="12.0" fill="#a8343c" opacity="0.40" filter="url(#b2)"/>
<ellipse cx="566.0" cy="198.0" rx="5.0" ry="5.0" fill="#a8343c" opacity="0.40" filter="url(#b2)"/>
<g fill="#1b2a78" opacity="0.38" filter="url(#b3)"><ellipse cx="710.5" cy="213.0" rx="25.0" ry="26.0"/><ellipse cx="707.5" cy="243.0" rx="24.0" ry="23.0"/><ellipse cx="740.5" cy="215.0" rx="16.0" ry="15.0"/><ellipse cx="727.5" cy="228.0" rx="21.0" ry="23.0"/></g>
<g filter="url(#tblur)"><ellipse cx="708.0" cy="210.0" rx="24.0" ry="25.0" fill="#d09490"/><ellipse cx="705.0" cy="240.0" rx="23.0" ry="22.0" fill="#d09490"/><ellipse cx="738.0" cy="212.0" rx="15.0" ry="14.0" fill="#d09490"/><ellipse cx="725.0" cy="225.0" rx="20.0" ry="22.0" fill="#d09490"/><ellipse cx="708.0" cy="210.0" rx="23.0" ry="24.0" fill="url(#lobe)"/><ellipse cx="705.0" cy="240.0" rx="22.0" ry="21.0" fill="url(#lobe)"/><ellipse cx="738.0" cy="212.0" rx="14.0" ry="13.0" fill="url(#lobe)"/><ellipse cx="725.0" cy="225.0" rx="19.0" ry="21.0" fill="url(#lobe)"/></g>
<g fill="#1b2a78" opacity="0.38" filter="url(#b3)"><ellipse cx="209.5" cy="353.0" rx="20.0" ry="16.0"/><ellipse cx="212.5" cy="378.0" rx="25.0" ry="23.0"/><ellipse cx="230.5" cy="393.0" rx="11.0" ry="12.0"/></g>
<g filter="url(#tblur)"><ellipse cx="207.0" cy="350.0" rx="19.0" ry="15.0" fill="#d09490"/><ellipse cx="210.0" cy="375.0" rx="24.0" ry="22.0" fill="#d09490"/><ellipse cx="228.0" cy="390.0" rx="10.0" ry="11.0" fill="#d09490"/><ellipse cx="207.0" cy="350.0" rx="18.0" ry="14.0" fill="url(#lobe)"/><ellipse cx="210.0" cy="375.0" rx="23.0" ry="21.0" fill="url(#lobe)"/><ellipse cx="228.0" cy="390.0" rx="9.0" ry="10.0" fill="url(#lobe)"/></g>
<ellipse cx="205.0" cy="364.0" rx="12.0" ry="3.0" fill="#a8343c" opacity="0.30" filter="url(#b2)"/>
<g fill="#1b2a78" opacity="0.38" filter="url(#b3)"><ellipse cx="334.5" cy="353.0" rx="17.0" ry="18.0"/><ellipse cx="340.5" cy="381.0" rx="20.0" ry="23.0"/><ellipse cx="347.5" cy="363.0" rx="11.0" ry="15.0"/></g>
<g filter="url(#tblur)"><ellipse cx="332.0" cy="350.0" rx="16.0" ry="17.0" fill="#d09490"/><ellipse cx="338.0" cy="378.0" rx="19.0" ry="22.0" fill="#d09490"/><ellipse cx="345.0" cy="360.0" rx="10.0" ry="14.0" fill="#d09490"/><ellipse cx="332.0" cy="350.0" rx="15.0" ry="16.0" fill="url(#lobe)"/><ellipse cx="338.0" cy="378.0" rx="18.0" ry="21.0" fill="url(#lobe)"/><ellipse cx="345.0" cy="360.0" rx="9.0" ry="13.0" fill="url(#lobe)"/></g>
<ellipse cx="334.0" cy="366.0" rx="7.0" ry="8.0" fill="#a8343c" opacity="0.40" filter="url(#b2)"/>
<g fill="#1b2a78" opacity="0.38" filter="url(#b3)"><ellipse cx="470.5" cy="371.0" rx="27.0" ry="27.0"/><ellipse cx="492.5" cy="349.0" rx="9.0" ry="10.0"/></g>
<g filter="url(#tblur)"><ellipse cx="468.0" cy="368.0" rx="26.0" ry="26.0" fill="#d09490"/><ellipse cx="490.0" cy="346.0" rx="8.0" ry="9.0" fill="#d09490"/><ellipse cx="468.0" cy="368.0" rx="25.0" ry="25.0" fill="url(#lobe)"/><ellipse cx="490.0" cy="346.0" rx="7.0" ry="8.0" fill="url(#lobe)"/></g>
<ellipse cx="468.0" cy="364.0" rx="10.0" ry="9.0" fill="#a8343c" opacity="0.50" filter="url(#b2)"/>
<ellipse cx="489.0" cy="346.0" rx="5.0" ry="6.0" fill="#a8343c" opacity="0.40" filter="url(#b2)"/>
<g fill="#1b2a78" opacity="0.38" filter="url(#b3)"><ellipse cx="597.5" cy="348.0" rx="23.0" ry="17.0"/><ellipse cx="594.5" cy="378.0" rx="22.0" ry="20.0"/><ellipse cx="612.5" cy="363.0" rx="10.0" ry="15.0"/></g>
<g filter="url(#tblur)"><ellipse cx="595.0" cy="345.0" rx="22.0" ry="16.0" fill="#d09490"/><ellipse cx="592.0" cy="375.0" rx="21.0" ry="19.0" fill="#d09490"/><ellipse cx="610.0" cy="360.0" rx="9.0" ry="14.0" fill="#d09490"/><ellipse cx="595.0" cy="345.0" rx="21.0" ry="15.0" fill="url(#lobe)"/><ellipse cx="592.0" cy="375.0" rx="20.0" ry="18.0" fill="url(#lobe)"/><ellipse cx="610.0" cy="360.0" rx="8.0" ry="13.0" fill="url(#lobe)"/></g>
<ellipse cx="588.0" cy="358.0" rx="8.0" ry="3.0" fill="#a8343c" opacity="0.50" filter="url(#b2)"/>
<g fill="#1b2a78" opacity="0.38" filter="url(#b3)"><ellipse cx="710.5" cy="361.0" rx="21.0" ry="19.0"/><ellipse cx="727.5" cy="371.0" rx="14.0" ry="21.0"/><ellipse cx="707.5" cy="386.0" rx="19.0" ry="15.0"/><ellipse cx="726.5" cy="388.0" rx="13.0" ry="12.0"/></g>
<g filter="url(#tblur)"><ellipse cx="708.0" cy="358.0" rx="20.0" ry="18.0" fill="#d09490"/><ellipse cx="725.0" cy="368.0" rx="13.0" ry="20.0" fill="#d09490"/><ellipse cx="705.0" cy="383.0" rx="18.0" ry="14.0" fill="#d09490"/><ellipse cx="724.0" cy="385.0" rx="12.0" ry="11.0" fill="#d09490"/><ellipse cx="708.0" cy="358.0" rx="19.0" ry="17.0" fill="url(#lobe)"/><ellipse cx="725.0" cy="368.0" rx="12.0" ry="19.0" fill="url(#lobe)"/><ellipse cx="705.0" cy="383.0" rx="17.0" ry="13.0" fill="url(#lobe)"/><ellipse cx="724.0" cy="385.0" rx="11.0" ry="10.0" fill="url(#lobe)"/></g>
<ellipse cx="728.0" cy="362.0" rx="6.0" ry="10.0" fill="#a8343c" opacity="0.50" filter="url(#b2)"/>
<g fill="#1b2a78" opacity="0.38" filter="url(#b3)"><ellipse cx="204.5" cy="491.0" rx="14.0" ry="17.0"/><ellipse cx="207.5" cy="508.0" rx="18.0" ry="15.0"/><ellipse cx="224.5" cy="495.0" rx="11.0" ry="11.0"/></g>
<g filter="url(#tblur)"><ellipse cx="202.0" cy="488.0" rx="13.0" ry="16.0" fill="#d09490"/><ellipse cx="205.0" cy="505.0" rx="17.0" ry="14.0" fill="#d09490"/><ellipse cx="222.0" cy="492.0" rx="10.0" ry="10.0" fill="#d09490"/><ellipse cx="202.0" cy="488.0" rx="12.0" ry="15.0" fill="url(#lobe)"/><ellipse cx="205.0" cy="505.0" rx="16.0" ry="13.0" fill="url(#lobe)"/><ellipse cx="222.0" cy="492.0" rx="9.0" ry="9.0" fill="url(#lobe)"/></g>
<g fill="#1b2a78" opacity="0.38" filter="url(#b3)"><ellipse cx="334.5" cy="481.0" rx="11.0" ry="15.0"/><ellipse cx="342.5" cy="498.0" rx="14.0" ry="15.0"/><ellipse cx="350.5" cy="511.0" rx="12.0" ry="12.0"/></g>
<g filter="url(#tblur)"><ellipse cx="332.0" cy="478.0" rx="10.0" ry="14.0" fill="#d09490"/><ellipse cx="340.0" cy="495.0" rx="13.0" ry="14.0" fill="#d09490"/><ellipse cx="348.0" cy="508.0" rx="11.0" ry="11.0" fill="#d09490"/><ellipse cx="332.0" cy="478.0" rx="9.0" ry="13.0" fill="url(#lobe)"/><ellipse cx="340.0" cy="495.0" rx="12.0" ry="13.0" fill="url(#lobe)"/><ellipse cx="348.0" cy="508.0" rx="10.0" ry="10.0" fill="url(#lobe)"/></g>
<ellipse cx="334.0" cy="482.0" rx="4.0" ry="6.0" fill="#a8343c" opacity="0.30" filter="url(#b2)"/>
<g fill="#1b2a78" opacity="0.38" filter="url(#b3)"><ellipse cx="472.5" cy="497.0" rx="15.0" ry="13.0"/><ellipse cx="470.5" cy="510.0" rx="9.0" ry="8.0"/></g>
<g filter="url(#tblur)"><ellipse cx="470.0" cy="494.0" rx="14.0" ry="12.0" fill="#d09490"/><ellipse cx="468.0" cy="507.0" rx="8.0" ry="7.0" fill="#d09490"/><ellipse cx="470.0" cy="494.0" rx="13.0" ry="11.0" fill="url(#lobe)"/><ellipse cx="468.0" cy="507.0" rx="7.0" ry="6.0" fill="url(#lobe)"/></g>
<g fill="#1b2a78" opacity="0.38" filter="url(#b3)"><ellipse cx="596.5" cy="496.0" rx="14.0" ry="12.0"/><ellipse cx="596.5" cy="511.0" rx="14.0" ry="12.0"/></g>
<g filter="url(#tblur)"><ellipse cx="594.0" cy="493.0" rx="13.0" ry="11.0" fill="#d09490"/><ellipse cx="594.0" cy="508.0" rx="13.0" ry="11.0" fill="#d09490"/><ellipse cx="594.0" cy="493.0" rx="12.0" ry="10.0" fill="url(#lobe)"/><ellipse cx="594.0" cy="508.0" rx="12.0" ry="10.0" fill="url(#lobe)"/></g>
<ellipse cx="600.0" cy="486.0" rx="3.0" ry="3.0" fill="#a8343c" opacity="0.40" filter="url(#b2)"/>
<g fill="#1b2a78" opacity="0.38" filter="url(#b3)"><ellipse cx="706.5" cy="494.0" rx="15.0" ry="12.0"/><ellipse cx="707.5" cy="512.0" rx="17.0" ry="12.0"/></g>
<g filter="url(#tblur)"><ellipse cx="704.0" cy="491.0" rx="14.0" ry="11.0" fill="#d09490"/><ellipse cx="705.0" cy="509.0" rx="16.0" ry="11.0" fill="#d09490"/><ellipse cx="704.0" cy="491.0" rx="13.0" ry="10.0" fill="url(#lobe)"/><ellipse cx="705.0" cy="509.0" rx="15.0" ry="10.0" fill="url(#lobe)"/></g>
</g>
<text transform="translate(877.5 72.7) scale(1 1.04)" font-size="30" text-anchor="middle" textLength="148.2" lengthAdjust="spacing">shSNAP23</text>
<text transform="translate(877.5 108.0) scale(1 1.04)" font-size="30" text-anchor="middle" textLength="95.0" lengthAdjust="spacing">+oeNC</text>
<text transform="translate(877.5 211.0) scale(1 1.04)" font-size="30" text-anchor="middle" textLength="148.2" lengthAdjust="spacing">shSNAP23</text>
<text transform="translate(877.5 246.4) scale(1 1.04)" font-size="30" text-anchor="middle" textLength="132.7" lengthAdjust="spacing">+oeTFAM</text>
<text transform="translate(877.5 356.0) scale(1 1.04)" font-size="30" text-anchor="middle" textLength="148.2" lengthAdjust="spacing">shSNAP23</text>
<text transform="translate(877.5 391.2) scale(1 1.04)" font-size="30" text-anchor="middle" textLength="95.0" lengthAdjust="spacing">+oeNC</text>
<text transform="translate(877.5 492.3) scale(1 1.04)" font-size="30" text-anchor="middle" textLength="148.2" lengthAdjust="spacing">shSNAP23</text>
<text transform="translate(877.5 527.5) scale(1 1.04)" font-size="30" text-anchor="middle" textLength="132.7" lengthAdjust="spacing">+oeTFAM</text>
<line x1="967.5" y1="47.5" x2="967.5" y2="246.4" stroke="#0d0b0a" stroke-width="2.8"/>
<line x1="967.5" y1="331.9" x2="967.5" y2="530.8" stroke="#0d0b0a" stroke-width="2.8"/>
<text transform="translate(979.3 100.0) rotate(90) scale(1 1.04)" font-size="30" textLength="92.5" lengthAdjust="spacing" x="-1.2">OXA –</text>
<text transform="translate(982.5 383.5) rotate(90) scale(1 1.04)" font-size="30" textLength="90.5" lengthAdjust="spacing" x="-1.2">OXA +</text></g>
<g id="panel_b"><text transform="translate(1081.7 45.2) scale(1 1.04)" font-size="51">B</text>
<text transform="translate(1508.5 23.5) scale(1 1.04)" font-size="30" text-anchor="middle" textLength="294.6" lengthAdjust="spacing">HT29 s.c. CDX model</text>
<line x1="1209.9" y1="75.0" x2="1209.9" y2="470.9" stroke="#0d0b0a" stroke-width="4"/>
<line x1="1192.4" y1="468.9" x2="1799.5" y2="468.9" stroke="#0d0b0a" stroke-width="4"/>
<line x1="1192.4" y1="77.0" x2="1209.9" y2="77.0" stroke="#0d0b0a" stroke-width="3.9"/>
<text transform="translate(1189.2 88.0) scale(1 1.04)" font-size="30" text-anchor="end">1200</text>
<line x1="1192.4" y1="142.3" x2="1209.9" y2="142.3" stroke="#0d0b0a" stroke-width="3.9"/>
<text transform="translate(1189.2 153.3) scale(1 1.04)" font-size="30" text-anchor="end">1000</text>
<line x1="1192.4" y1="207.6" x2="1209.9" y2="207.6" stroke="#0d0b0a" stroke-width="3.9"/>
<text transform="translate(1189.2 218.6) scale(1 1.04)" font-size="30" text-anchor="end">800</text>
<line x1="1192.4" y1="272.9" x2="1209.9" y2="272.9" stroke="#0d0b0a" stroke-width="3.9"/>
<text transform="translate(1189.2 283.9) scale(1 1.04)" font-size="30" text-anchor="end">600</text>
<line x1="1192.4" y1="338.3" x2="1209.9" y2="338.3" stroke="#0d0b0a" stroke-width="3.9"/>
<text transform="translate(1189.2 349.3) scale(1 1.04)" font-size="30" text-anchor="end">400</text>
<line x1="1192.4" y1="403.6" x2="1209.9" y2="403.6" stroke="#0d0b0a" stroke-width="3.9"/>
<text transform="translate(1189.2 414.6) scale(1 1.04)" font-size="30" text-anchor="end">200</text>
<text transform="translate(1189.2 479.9) scale(1 1.04)" font-size="30" text-anchor="end">0</text>
<line x1="1239.1" y1="468.9" x2="1239.1" y2="485.9" stroke="#0d0b0a" stroke-width="4"/>
<text transform="translate(1239.1 516.9) scale(1 1.04)" font-size="30" text-anchor="middle">0</text>
<line x1="1297.9" y1="468.9" x2="1297.9" y2="485.9" stroke="#0d0b0a" stroke-width="4"/>
<text transform="translate(1297.9 516.9) scale(1 1.04)" font-size="30" text-anchor="middle">3</text>
<line x1="1356.6" y1="468.9" x2="1356.6" y2="485.9" stroke="#0d0b0a" stroke-width="4"/>
<text transform="translate(1356.6 516.9) scale(1 1.04)" font-size="30" text-anchor="middle">6</text>
<line x1="1415.4" y1="468.9" x2="1415.4" y2="485.9" stroke="#0d0b0a" stroke-width="4"/>
<text transform="translate(1415.4 516.9) scale(1 1.04)" font-size="30" text-anchor="middle">9</text>
<line x1="1474.2" y1="468.9" x2="1474.2" y2="485.9" stroke="#0d0b0a" stroke-width="4"/>
<text transform="translate(1474.2 516.9) scale(1 1.04)" font-size="30" text-anchor="middle">12</text>
<line x1="1532.9" y1="468.9" x2="1532.9" y2="485.9" stroke="#0d0b0a" stroke-width="4"/>
<text transform="translate(1532.9 516.9) scale(1 1.04)" font-size="30" text-anchor="middle">15</text>
<line x1="1591.7" y1="468.9" x2="1591.7" y2="485.9" stroke="#0d0b0a" stroke-width="4"/>
<text transform="translate(1591.7 516.9) scale(1 1.04)" font-size="30" text-anchor="middle">18</text>
<line x1="1650.5" y1="468.9" x2="1650.5" y2="485.9" stroke="#0d0b0a" stroke-width="4"/>
<text transform="translate(1650.5 516.9) scale(1 1.04)" font-size="30" text-anchor="middle">21</text>
<line x1="1709.3" y1="468.9" x2="1709.3" y2="485.9" stroke="#0d0b0a" stroke-width="4"/>
<text transform="translate(1709.3 516.9) scale(1 1.04)" font-size="30" text-anchor="middle">24</text>
<line x1="1768.0" y1="468.9" x2="1768.0" y2="485.9" stroke="#0d0b0a" stroke-width="4"/>
<text transform="translate(1768.0 516.9) scale(1 1.04)" font-size="30" text-anchor="middle">27</text>
<text transform="translate(1504.5 563.5) scale(1 1.04)" font-size="30" text-anchor="middle" textLength="163.6" lengthAdjust="spacing">Time (days)</text>
<text transform="translate(1105.4 272.6) rotate(-90) scale(1 1.04)" font-size="30" text-anchor="middle" textLength="289.1" lengthAdjust="spacing">Tumor volume (mm<tspan font-size="22" dy="-11.5">3</tspan><tspan dy="11.5">)</tspan></text>
<line x1="1222.9" y1="87.0" x2="1265.5" y2="87.0" stroke="#808184" stroke-width="3.6"/>
<circle cx="1244.4" cy="87.0" r="8.3" fill="#808184"/>
<text transform="translate(1290.0 96.8) scale(1 1.04)" font-size="30" textLength="244.2" lengthAdjust="spacing" x="-1.2">shSNAP23+oeNC</text>
<line x1="1222.9" y1="139.1" x2="1265.5" y2="139.1" stroke="#8a40bd" stroke-width="3.6"/>
<rect x="1236.1" y="130.8" width="16.6" height="16.6" fill="#8a40bd"/>
<text transform="translate(1290.0 148.9) scale(1 1.04)" font-size="30" textLength="278.9" lengthAdjust="spacing" x="-1.2">shSNAP23+oeTFAM</text>
<line x1="1222.9" y1="191.9" x2="1265.5" y2="191.9" stroke="#3b4ca2" stroke-width="3.6"/>
<path d="M1244.4 183.3L1253.0 198.3L1235.8 198.3Z" fill="#3b4ca2"/>
<text transform="translate(1290.0 201.7) scale(1 1.04)" font-size="30" textLength="244.2" lengthAdjust="spacing" x="-1.2">shSNAP23+oeNC</text>
<line x1="1222.9" y1="244.0" x2="1265.5" y2="244.0" stroke="#5cbe2c" stroke-width="3.6"/>
<path d="M1244.4 252.6L1253.0 237.6L1235.8 237.6Z" fill="#5cbe2c"/>
<text transform="translate(1290.0 253.8) scale(1 1.04)" font-size="30" textLength="278.9" lengthAdjust="spacing" x="-1.2">shSNAP23+oeTFAM</text>
<line x1="1584.4" y1="75.0" x2="1584.4" y2="149.0" stroke="#0d0b0a" stroke-width="3.4"/>
<line x1="1584.4" y1="182.0" x2="1584.4" y2="255.4" stroke="#0d0b0a" stroke-width="3.4"/>
<text transform="translate(1600.3 77.5) rotate(90) scale(1 1.04)" font-size="30" textLength="75.5" lengthAdjust="spacing" x="-1.2">OXA-</text>
<text transform="translate(1600.3 180.5) rotate(90) scale(1 1.04)" font-size="30" textLength="79.5" lengthAdjust="spacing" x="-1.2">OXA+</text>
<line x1="1591.7" y1="371.4" x2="1591.7" y2="401.0" stroke="#5cbe2c" stroke-width="1.7"/>
<line x1="1583.7" y1="371.4" x2="1599.7" y2="371.4" stroke="#5cbe2c" stroke-width="1.7"/>
<line x1="1583.7" y1="401.0" x2="1599.7" y2="401.0" stroke="#5cbe2c" stroke-width="1.7"/>
<line x1="1650.5" y1="369.4" x2="1650.5" y2="398.6" stroke="#5cbe2c" stroke-width="1.7"/>
<line x1="1642.5" y1="369.4" x2="1658.5" y2="369.4" stroke="#5cbe2c" stroke-width="1.7"/>
<line x1="1642.5" y1="398.6" x2="1658.5" y2="398.6" stroke="#5cbe2c" stroke-width="1.7"/>
<line x1="1709.3" y1="390.5" x2="1709.3" y2="409.5" stroke="#5cbe2c" stroke-width="1.7"/>
<line x1="1701.3" y1="390.5" x2="1717.3" y2="390.5" stroke="#5cbe2c" stroke-width="1.7"/>
<line x1="1701.3" y1="409.5" x2="1717.3" y2="409.5" stroke="#5cbe2c" stroke-width="1.7"/>
<line x1="1768.0" y1="396.7" x2="1768.0" y2="437.3" stroke="#5cbe2c" stroke-width="1.7"/>
<line x1="1760.0" y1="396.7" x2="1776.0" y2="396.7" stroke="#5cbe2c" stroke-width="1.7"/>
<line x1="1760.0" y1="437.3" x2="1776.0" y2="437.3" stroke="#5cbe2c" stroke-width="1.7"/>
<polyline points="1239.1,468.9 1297.9,468.9 1356.6,441.5 1415.4,439.0 1474.2,427.0 1532.9,415.8 1591.7,386.2 1650.5,384.0 1709.3,400.0 1768.0,417.0" fill="none" stroke="#5cbe2c" stroke-width="3.7" stroke-linejoin="round"/>
<path d="M1239.1 477.5L1247.7 462.5L1230.5 462.5Z" fill="#5cbe2c"/>
<path d="M1297.9 477.5L1306.5 462.5L1289.3 462.5Z" fill="#5cbe2c"/>
<path d="M1356.6 450.1L1365.2 435.1L1348.0 435.1Z" fill="#5cbe2c"/>
<path d="M1415.4 447.6L1424.0 432.6L1406.8 432.6Z" fill="#5cbe2c"/>
<path d="M1474.2 435.6L1482.8 420.6L1465.6 420.6Z" fill="#5cbe2c"/>
<path d="M1532.9 424.4L1541.5 409.4L1524.3 409.4Z" fill="#5cbe2c"/>
<path d="M1591.7 394.8L1600.3 379.8L1583.1 379.8Z" fill="#5cbe2c"/>
<path d="M1650.5 392.6L1659.1 377.6L1641.9 377.6Z" fill="#5cbe2c"/>
<path d="M1709.3 408.6L1717.9 393.6L1700.7 393.6Z" fill="#5cbe2c"/>
<path d="M1768.0 425.6L1776.6 410.6L1759.4 410.6Z" fill="#5cbe2c"/>
<line x1="1591.7" y1="346.5" x2="1591.7" y2="384.5" stroke="#3b4ca2" stroke-width="1.7"/>
<line x1="1583.7" y1="346.5" x2="1599.7" y2="346.5" stroke="#3b4ca2" stroke-width="1.7"/>
<line x1="1583.7" y1="384.5" x2="1599.7" y2="384.5" stroke="#3b4ca2" stroke-width="1.7"/>
<line x1="1650.5" y1="306.7" x2="1650.5" y2="362.3" stroke="#3b4ca2" stroke-width="1.7"/>
<line x1="1642.5" y1="306.7" x2="1658.5" y2="306.7" stroke="#3b4ca2" stroke-width="1.7"/>
<line x1="1642.5" y1="362.3" x2="1658.5" y2="362.3" stroke="#3b4ca2" stroke-width="1.7"/>
<line x1="1709.3" y1="299.1" x2="1709.3" y2="338.3" stroke="#3b4ca2" stroke-width="1.7"/>
<line x1="1701.3" y1="299.1" x2="1717.3" y2="299.1" stroke="#3b4ca2" stroke-width="1.7"/>
<line x1="1701.3" y1="338.3" x2="1717.3" y2="338.3" stroke="#3b4ca2" stroke-width="1.7"/>
<line x1="1768.0" y1="281.7" x2="1768.0" y2="327.3" stroke="#3b4ca2" stroke-width="1.7"/>
<line x1="1760.0" y1="281.7" x2="1776.0" y2="281.7" stroke="#3b4ca2" stroke-width="1.7"/>
<line x1="1760.0" y1="327.3" x2="1776.0" y2="327.3" stroke="#3b4ca2" stroke-width="1.7"/>
<polyline points="1239.1,468.9 1297.9,468.9 1356.6,439.0 1415.4,433.8 1474.2,421.5 1532.9,403.7 1591.7,365.5 1650.5,334.5 1709.3,318.7 1768.0,304.5" fill="none" stroke="#3b4ca2" stroke-width="3.7" stroke-linejoin="round"/>
<path d="M1239.1 460.3L1247.7 475.3L1230.5 475.3Z" fill="#3b4ca2"/>
<path d="M1297.9 460.3L1306.5 475.3L1289.3 475.3Z" fill="#3b4ca2"/>
<path d="M1356.6 430.4L1365.2 445.4L1348.0 445.4Z" fill="#3b4ca2"/>
<path d="M1415.4 425.2L1424.0 440.2L1406.8 440.2Z" fill="#3b4ca2"/>
<path d="M1474.2 412.9L1482.8 427.9L1465.6 427.9Z" fill="#3b4ca2"/>
<path d="M1532.9 395.1L1541.5 410.1L1524.3 410.1Z" fill="#3b4ca2"/>
<path d="M1591.7 356.9L1600.3 371.9L1583.1 371.9Z" fill="#3b4ca2"/>
<path d="M1650.5 325.9L1659.1 340.9L1641.9 340.9Z" fill="#3b4ca2"/>
<path d="M1709.3 310.1L1717.9 325.1L1700.7 325.1Z" fill="#3b4ca2"/>
<path d="M1768.0 295.9L1776.6 310.9L1759.4 310.9Z" fill="#3b4ca2"/>
<line x1="1532.9" y1="379.7" x2="1532.9" y2="395.7" stroke="#8a40bd" stroke-width="1.7"/>
<line x1="1524.9" y1="379.7" x2="1540.9" y2="379.7" stroke="#8a40bd" stroke-width="1.7"/>
<line x1="1524.9" y1="395.7" x2="1540.9" y2="395.7" stroke="#8a40bd" stroke-width="1.7"/>
<line x1="1709.3" y1="277.0" x2="1709.3" y2="309.0" stroke="#8a40bd" stroke-width="1.7"/>
<line x1="1701.3" y1="277.0" x2="1717.3" y2="277.0" stroke="#8a40bd" stroke-width="1.7"/>
<line x1="1701.3" y1="309.0" x2="1717.3" y2="309.0" stroke="#8a40bd" stroke-width="1.7"/>
<line x1="1768.0" y1="148.8" x2="1768.0" y2="307.8" stroke="#8a40bd" stroke-width="1.7"/>
<line x1="1760.0" y1="148.8" x2="1776.0" y2="148.8" stroke="#8a40bd" stroke-width="1.7"/>
<line x1="1760.0" y1="307.8" x2="1776.0" y2="307.8" stroke="#8a40bd" stroke-width="1.7"/>
<polyline points="1239.1,468.9 1297.9,468.9 1356.6,432.5 1415.4,416.0 1474.2,406.0 1532.9,387.7 1591.7,366.8 1650.5,334.5 1709.3,293.0 1768.0,228.3" fill="none" stroke="#8a40bd" stroke-width="3.7" stroke-linejoin="round"/>
<rect x="1230.8" y="460.6" width="16.6" height="16.6" fill="#8a40bd"/>
<rect x="1289.6" y="460.6" width="16.6" height="16.6" fill="#8a40bd"/>
<rect x="1348.3" y="424.2" width="16.6" height="16.6" fill="#8a40bd"/>
<rect x="1407.1" y="407.7" width="16.6" height="16.6" fill="#8a40bd"/>
<rect x="1465.9" y="397.7" width="16.6" height="16.6" fill="#8a40bd"/>
<rect x="1524.6" y="379.4" width="16.6" height="16.6" fill="#8a40bd"/>
<rect x="1583.4" y="358.5" width="16.6" height="16.6" fill="#8a40bd"/>
<rect x="1642.2" y="326.2" width="16.6" height="16.6" fill="#8a40bd"/>
<rect x="1701.0" y="284.7" width="16.6" height="16.6" fill="#8a40bd"/>
<rect x="1759.7" y="220.0" width="16.6" height="16.6" fill="#8a40bd"/>
<line x1="1532.9" y1="360.5" x2="1532.9" y2="374.5" stroke="#808184" stroke-width="1.7"/>
<line x1="1524.9" y1="360.5" x2="1540.9" y2="360.5" stroke="#808184" stroke-width="1.7"/>
<line x1="1524.9" y1="374.5" x2="1540.9" y2="374.5" stroke="#808184" stroke-width="1.7"/>
<line x1="1591.7" y1="331.9" x2="1591.7" y2="349.5" stroke="#808184" stroke-width="1.7"/>
<line x1="1583.7" y1="331.9" x2="1599.7" y2="331.9" stroke="#808184" stroke-width="1.7"/>
<line x1="1583.7" y1="349.5" x2="1599.7" y2="349.5" stroke="#808184" stroke-width="1.7"/>
<line x1="1650.5" y1="288.9" x2="1650.5" y2="330.9" stroke="#808184" stroke-width="1.7"/>
<line x1="1642.5" y1="288.9" x2="1658.5" y2="288.9" stroke="#808184" stroke-width="1.7"/>
<line x1="1642.5" y1="330.9" x2="1658.5" y2="330.9" stroke="#808184" stroke-width="1.7"/>
<line x1="1709.3" y1="259.7" x2="1709.3" y2="316.3" stroke="#808184" stroke-width="1.7"/>
<line x1="1701.3" y1="259.7" x2="1717.3" y2="259.7" stroke="#808184" stroke-width="1.7"/>
<line x1="1701.3" y1="316.3" x2="1717.3" y2="316.3" stroke="#808184" stroke-width="1.7"/>
<line x1="1768.0" y1="119.7" x2="1768.0" y2="302.7" stroke="#808184" stroke-width="1.7"/>
<line x1="1760.0" y1="119.7" x2="1776.0" y2="119.7" stroke="#808184" stroke-width="1.7"/>
<line x1="1760.0" y1="302.7" x2="1776.0" y2="302.7" stroke="#808184" stroke-width="1.7"/>
<polyline points="1239.1,468.9 1297.9,468.9 1356.6,433.8 1415.4,421.8 1474.2,407.3 1532.9,367.5 1591.7,340.7 1650.5,309.9 1709.3,288.0 1768.0,211.2" fill="none" stroke="#808184" stroke-width="3.7" stroke-linejoin="round"/>
<circle cx="1239.1" cy="468.9" r="8.3" fill="#808184"/>
<circle cx="1297.9" cy="468.9" r="8.3" fill="#808184"/>
<circle cx="1356.6" cy="433.8" r="8.3" fill="#808184"/>
<circle cx="1415.4" cy="421.8" r="8.3" fill="#808184"/>
<circle cx="1474.2" cy="407.3" r="8.3" fill="#808184"/>
<circle cx="1532.9" cy="367.5" r="8.3" fill="#808184"/>
<circle cx="1591.7" cy="340.7" r="8.3" fill="#808184"/>
<circle cx="1650.5" cy="309.9" r="8.3" fill="#808184"/>
<circle cx="1709.3" cy="288.0" r="8.3" fill="#808184"/>
<circle cx="1768.0" cy="211.2" r="8.3" fill="#808184"/>
<line x1="1797.8" y1="201.1" x2="1797.8" y2="425.3" stroke="#0d0b0a" stroke-width="3"/>
<line x1="1848.4" y1="221.5" x2="1848.4" y2="425.3" stroke="#0d0b0a" stroke-width="3"/>
<line x1="1898.3" y1="301.6" x2="1898.3" y2="425.3" stroke="#0d0b0a" stroke-width="3"/>
<text transform="translate(1811.3 247.2) rotate(90) scale(1 1.04)" font-size="30" textLength="132.6" lengthAdjust="spacing" x="-1.2"><tspan font-style="italic">P</tspan>=0.0004</text>
<text transform="translate(1861.5 260.4) rotate(90) scale(1 1.04)" font-size="30" textLength="132.6" lengthAdjust="spacing" x="-1.2"><tspan font-style="italic">P</tspan>=0.0010</text>
<text transform="translate(1914.0 298.3) rotate(90) scale(1 1.04)" font-size="30" textLength="136.6" lengthAdjust="spacing" x="-1.2"><tspan font-style="italic">P</tspan> =0.0483</text></g>
<g id="panel_c"><text transform="translate(2.0 788.0) scale(1 1.04)" font-size="51">C</text>
<line x1="227.5" y1="804.6" x2="270.0" y2="804.6" stroke="#0d0b0a" stroke-width="3.5"/>
<circle cx="248.4" cy="804.6" r="8" fill="#fff" stroke="#0d0b0a" stroke-width="3.6"/>
<line x1="227.5" y1="855.2" x2="270.0" y2="855.2" stroke="#0d0b0a" stroke-width="3.5"/>
<circle cx="248.4" cy="855.2" r="8" fill="#7077c4" stroke="#0d0b0a" stroke-width="3.6"/>
<text transform="translate(293.4 814.6) scale(1 1.04)" font-size="30" textLength="251.6" lengthAdjust="spacing" x="-1.2">shSNAP23+oeNC</text>
<text transform="translate(293.4 863.0) scale(1 1.04)" font-size="30" textLength="293.6" lengthAdjust="spacing" x="-1.2">shSNAP23+oeTFAM</text>
<text transform="translate(403.0 915.6) scale(1 1.04)" font-size="30" text-anchor="middle" textLength="295.6" lengthAdjust="spacing">HT29 s.c. CDX model</text>
<line x1="217.0" y1="975.7" x2="217.0" y2="1373.2" stroke="#0d0b0a" stroke-width="4.2"/>
<line x1="200.0" y1="1370.4" x2="610.8" y2="1370.4" stroke="#0d0b0a" stroke-width="4.1"/>
<line x1="200.0" y1="977.8" x2="217.0" y2="977.8" stroke="#0d0b0a" stroke-width="4.1"/>
<text transform="translate(196.2 989.2) scale(1 1.04)" font-size="30" text-anchor="end">1000</text>
<line x1="200.0" y1="1056.3" x2="217.0" y2="1056.3" stroke="#0d0b0a" stroke-width="4.1"/>
<text transform="translate(196.2 1067.7) scale(1 1.04)" font-size="30" text-anchor="end">800</text>
<line x1="200.0" y1="1134.8" x2="217.0" y2="1134.8" stroke="#0d0b0a" stroke-width="4.1"/>
<text transform="translate(196.2 1146.2) scale(1 1.04)" font-size="30" text-anchor="end">600</text>
<line x1="200.0" y1="1213.4" x2="217.0" y2="1213.4" stroke="#0d0b0a" stroke-width="4.1"/>
<text transform="translate(196.2 1224.8) scale(1 1.04)" font-size="30" text-anchor="end">400</text>
<line x1="200.0" y1="1291.9" x2="217.0" y2="1291.9" stroke="#0d0b0a" stroke-width="4.1"/>
<text transform="translate(196.2 1303.3) scale(1 1.04)" font-size="30" text-anchor="end">200</text>
<text transform="translate(196.2 1381.8) scale(1 1.04)" font-size="30" text-anchor="end">0</text>
<line x1="276.9" y1="1370.4" x2="276.9" y2="1387.6" stroke="#0d0b0a" stroke-width="4.2"/>
<line x1="367.5" y1="1370.4" x2="367.5" y2="1387.6" stroke="#0d0b0a" stroke-width="4.2"/>
<line x1="457.5" y1="1370.4" x2="457.5" y2="1387.6" stroke="#0d0b0a" stroke-width="4.2"/>
<line x1="547.3" y1="1370.4" x2="547.3" y2="1387.6" stroke="#0d0b0a" stroke-width="4.2"/>
<text transform="translate(132.9 1180.5) rotate(-90) scale(1 1.04)" font-size="30" text-anchor="middle" textLength="261.9" lengthAdjust="spacing">Tumor weight (mg)</text>
<text transform="translate(159.6 1433.7) scale(1 1.04)" font-size="30" textLength="62.5" lengthAdjust="spacing" x="-1.2">OXA</text>
<line x1="268.3" y1="1424.8" x2="285.5" y2="1424.8" stroke="#0d0b0a" stroke-width="2.9"/>
<line x1="358.9" y1="1424.8" x2="376.1" y2="1424.8" stroke="#0d0b0a" stroke-width="2.9"/>
<line x1="449.5" y1="1424.8" x2="465.5" y2="1424.8" stroke="#0d0b0a" stroke-width="3.6"/>
<line x1="457.5" y1="1416.8" x2="457.5" y2="1432.8" stroke="#0d0b0a" stroke-width="3.6"/>
<line x1="539.3" y1="1424.8" x2="555.3" y2="1424.8" stroke="#0d0b0a" stroke-width="3.6"/>
<line x1="547.3" y1="1416.8" x2="547.3" y2="1432.8" stroke="#0d0b0a" stroke-width="3.6"/>
<line x1="253.8" y1="977.5" x2="584.8" y2="977.5" stroke="#0d0b0a" stroke-width="3.2"/>
<line x1="347.7" y1="1029.0" x2="585.5" y2="1029.0" stroke="#0d0b0a" stroke-width="3.2"/>
<line x1="420.9" y1="1081.8" x2="584.8" y2="1081.8" stroke="#0d0b0a" stroke-width="3.2"/>
<text transform="translate(345.0 966.5) scale(1 1.04)" font-size="30"><tspan font-style="italic">P</tspan>=3.8×10<tspan font-size="22.2" dy="-12.5">-5</tspan></text>
<text transform="translate(404.0 1021.3) scale(1 1.04)" font-size="30"><tspan font-style="italic">P</tspan>=5.3×10<tspan font-size="22.2" dy="-12.5">-5</tspan></text>
<text transform="translate(441.8 1073.0) scale(1 1.04)" font-size="30" textLength="127.3" lengthAdjust="spacing" x="-1.2"><tspan font-style="italic">P</tspan>=0.0089</text>
<line x1="276.6" y1="1022.0" x2="276.6" y2="1177.4" stroke="#0d0b0a" stroke-width="3.9"/>
<line x1="261.5" y1="1022.0" x2="291.7" y2="1022.0" stroke="#0d0b0a" stroke-width="3.9"/>
<line x1="261.5" y1="1177.4" x2="291.7" y2="1177.4" stroke="#0d0b0a" stroke-width="3.9"/>
<line x1="246.0" y1="1100.0" x2="307.2" y2="1100.0" stroke="#0d0b0a" stroke-width="3.8"/>
<circle cx="276.6" cy="1019.0" r="7.95" fill="#fff" stroke="#0d0b0a" stroke-width="3.5"/>
<circle cx="255.0" cy="1059.8" r="7.95" fill="#fff" stroke="#0d0b0a" stroke-width="3.5"/>
<circle cx="299.3" cy="1054.7" r="7.95" fill="#fff" stroke="#0d0b0a" stroke-width="3.5"/>
<circle cx="276.6" cy="1169.7" r="7.95" fill="#fff" stroke="#0d0b0a" stroke-width="3.5"/>
<circle cx="276.8" cy="1195.0" r="7.95" fill="#fff" stroke="#0d0b0a" stroke-width="3.5"/>
<line x1="367.5" y1="1048.8" x2="367.5" y2="1162.0" stroke="#0d0b0a" stroke-width="3.9"/>
<line x1="352.4" y1="1048.8" x2="382.6" y2="1048.8" stroke="#0d0b0a" stroke-width="3.9"/>
<line x1="352.4" y1="1162.0" x2="382.6" y2="1162.0" stroke="#0d0b0a" stroke-width="3.9"/>
<line x1="336.9" y1="1106.4" x2="398.1" y2="1106.4" stroke="#0d0b0a" stroke-width="3.8"/>
<circle cx="344.6" cy="1049.9" r="7.95" fill="#8a8fce" stroke="#0d0b0a" stroke-width="3.5"/>
<circle cx="389.5" cy="1060.2" r="7.95" fill="#8a8fce" stroke="#0d0b0a" stroke-width="3.5"/>
<circle cx="367.5" cy="1104.4" r="7.95" fill="#8a8fce" stroke="#0d0b0a" stroke-width="3.5"/>
<circle cx="367.5" cy="1126.4" r="7.95" fill="#8a8fce" stroke="#0d0b0a" stroke-width="3.5"/>
<circle cx="367.5" cy="1190.5" r="7.95" fill="#8a8fce" stroke="#0d0b0a" stroke-width="3.5"/>
<line x1="457.6" y1="1156.5" x2="457.6" y2="1230.5" stroke="#0d0b0a" stroke-width="3.9"/>
<line x1="442.5" y1="1156.5" x2="472.7" y2="1156.5" stroke="#0d0b0a" stroke-width="3.9"/>
<line x1="442.5" y1="1230.5" x2="472.7" y2="1230.5" stroke="#0d0b0a" stroke-width="3.9"/>
<line x1="427.0" y1="1193.8" x2="488.2" y2="1193.8" stroke="#0d0b0a" stroke-width="3.8"/>
<circle cx="457.6" cy="1128.6" r="7.95" fill="#fff" stroke="#0d0b0a" stroke-width="3.5"/>
<circle cx="435.3" cy="1199.5" r="7.95" fill="#fff" stroke="#0d0b0a" stroke-width="3.5"/>
<circle cx="457.6" cy="1205.6" r="7.95" fill="#fff" stroke="#0d0b0a" stroke-width="3.5"/>
<circle cx="479.9" cy="1210.5" r="7.95" fill="#fff" stroke="#0d0b0a" stroke-width="3.5"/>
<circle cx="435.3" cy="1222.3" r="7.95" fill="#fff" stroke="#0d0b0a" stroke-width="3.5"/>
<line x1="547.3" y1="1293.1" x2="547.3" y2="1342.2" stroke="#0d0b0a" stroke-width="3.9"/>
<line x1="532.2" y1="1293.1" x2="562.4" y2="1293.1" stroke="#0d0b0a" stroke-width="3.9"/>
<line x1="532.2" y1="1342.2" x2="562.4" y2="1342.2" stroke="#0d0b0a" stroke-width="3.9"/>
<line x1="516.7" y1="1317.5" x2="577.9" y2="1317.5" stroke="#0d0b0a" stroke-width="3.8"/>
<circle cx="525.8" cy="1290.4" r="7.95" fill="#8a8fce" stroke="#0d0b0a" stroke-width="3.5"/>
<circle cx="547.5" cy="1292.1" r="7.95" fill="#8a8fce" stroke="#0d0b0a" stroke-width="3.5"/>
<circle cx="525.8" cy="1336.6" r="7.95" fill="#8a8fce" stroke="#0d0b0a" stroke-width="3.5"/>
<circle cx="547.5" cy="1332.7" r="7.95" fill="#8a8fce" stroke="#0d0b0a" stroke-width="3.5"/>
<circle cx="570.3" cy="1336.0" r="7.95" fill="#8a8fce" stroke="#0d0b0a" stroke-width="3.5"/></g>
<g id="panel_d"><g filter="url(#hf1)" clip-path="url(#dc00)"><rect x="1055.8" y="781.8" width="226.1" height="173.9" fill="#808080"/><path d="M1063.8 799.8 L1103.8 849.8 L1138.8 909.8 L1158.8 947.8" fill="none" stroke="#4c4c4c" stroke-width="5" stroke-linecap="round" stroke-linejoin="round"/><path d="M1123.8 829.8 L1183.8 879.8 L1223.8 909.8" fill="none" stroke="#5c5c5c" stroke-width="4" stroke-linecap="round" stroke-linejoin="round"/><path d="M1063.8 884.8 L1093.8 914.8 L1108.8 947.8" fill="none" stroke="#525252" stroke-width="4" stroke-linecap="round" stroke-linejoin="round"/><ellipse cx="1213.8" cy="829.8" rx="40.0" ry="30.0" fill="#8f8f8f"/></g>
<g clip-path="url(#dc00)"><g filter="url(#voidf)" fill="#fff" stroke="#fff"><ellipse cx="1237.8" cy="923.8" rx="15.0" ry="17.0" fill="#ffffff"/><ellipse cx="1236.8" cy="897.8" rx="6.0" ry="12.0" fill="#ffffff" transform="rotate(15 1236.8 897.8)"/><ellipse cx="1260.8" cy="926.8" rx="13.0" ry="6.0" fill="#ffffff"/><ellipse cx="1229.8" cy="941.8" rx="11.0" ry="6.0" fill="#ffffff"/><ellipse cx="1253.8" cy="941.8" rx="8.0" ry="4.0" fill="#ffffff"/></g></g>
<rect x="1068.6" y="936.4" width="37.6" height="4.5" fill="#050505"/>
<rect x="1277.7" y="789.8" width="210.2" height="157.9" fill="#06070f"/>
<g filter="url(#sf2)" clip-path="url(#dc01)"><rect x="1269.7" y="781.8" width="226.2" height="173.9" fill="#a5a5a5"/><ellipse cx="1337.7" cy="899.8" rx="50.0" ry="35.0" fill="#9e9e9e"/><ellipse cx="1427.7" cy="909.8" rx="40.0" ry="25.0" fill="#ababab"/><ellipse cx="1317.7" cy="829.8" rx="35.0" ry="25.0" fill="#aaaaaa"/><ellipse cx="1447.7" cy="839.8" rx="30.0" ry="30.0" fill="#a0a0a0"/></g>
<g filter="url(#sf3)" clip-path="url(#dc01)"><rect x="1269.7" y="781.8" width="226.2" height="173.9" fill="#737373"/><ellipse cx="1337.7" cy="899.8" rx="50.0" ry="35.0" fill="#6f6f6f"/><ellipse cx="1427.7" cy="909.8" rx="40.0" ry="25.0" fill="#757575"/><ellipse cx="1317.7" cy="829.8" rx="35.0" ry="25.0" fill="#747474"/><ellipse cx="1447.7" cy="839.8" rx="30.0" ry="30.0" fill="#707070"/></g>
<rect x="1492.7" y="789.8" width="210.3" height="157.9" fill="#070a06"/>
<g filter="url(#sf4)" clip-path="url(#dc02)"><rect x="1484.7" y="781.8" width="226.3" height="173.9" fill="#000000"/><ellipse cx="1697.7" cy="949.8" rx="95.0" ry="48.0" fill="#606060" transform="rotate(-25 1697.7 949.8)"/><ellipse cx="1700.7" cy="941.8" rx="62.0" ry="30.0" fill="#6f6f6f" transform="rotate(-28 1700.7 941.8)"/><ellipse cx="1692.7" cy="939.8" rx="30.0" ry="16.0" fill="#787878" transform="rotate(-25 1692.7 939.8)"/><ellipse cx="1700.7" cy="884.8" rx="10.0" ry="40.0" fill="#606060"/></g>
<g fill="#86e22e"><circle cx="1503.7" cy="908.8" r="1"/><circle cx="1510.7" cy="903.8" r="0.7"/></g>
<rect x="1707.7" y="789.8" width="210.7" height="157.9" fill="#06070f"/>
<g filter="url(#sf5)" clip-path="url(#dc03)"><rect x="1699.7" y="781.8" width="226.7" height="173.9" fill="#a5a5a5"/><ellipse cx="1767.7" cy="899.8" rx="50.0" ry="35.0" fill="#9e9e9e"/><ellipse cx="1857.7" cy="909.8" rx="40.0" ry="25.0" fill="#ababab"/><ellipse cx="1747.7" cy="829.8" rx="35.0" ry="25.0" fill="#aaaaaa"/><ellipse cx="1877.7" cy="839.8" rx="30.0" ry="30.0" fill="#a0a0a0"/></g>
<g filter="url(#sf6)" clip-path="url(#dc03)"><rect x="1699.7" y="781.8" width="226.7" height="173.9" fill="#747474"/><ellipse cx="1767.7" cy="899.8" rx="50.0" ry="35.0" fill="#717171"/><ellipse cx="1857.7" cy="909.8" rx="40.0" ry="25.0" fill="#767676"/><ellipse cx="1747.7" cy="829.8" rx="35.0" ry="25.0" fill="#767676"/><ellipse cx="1877.7" cy="839.8" rx="30.0" ry="30.0" fill="#727272"/></g>
<g filter="url(#sf7)" clip-path="url(#dc03)"><rect x="1699.7" y="781.8" width="226.7" height="173.9" fill="#000000"/><ellipse cx="1912.7" cy="949.8" rx="95.0" ry="48.0" fill="#565656" transform="rotate(-25 1912.7 949.8)"/><ellipse cx="1915.7" cy="941.8" rx="62.0" ry="30.0" fill="#636363" transform="rotate(-28 1915.7 941.8)"/><ellipse cx="1907.7" cy="939.8" rx="30.0" ry="16.0" fill="#6b6b6b" transform="rotate(-25 1907.7 939.8)"/><ellipse cx="1915.7" cy="884.8" rx="10.0" ry="40.0" fill="#565656"/></g>
<g fill="#86e22e"><circle cx="1718.7" cy="908.8" r="1"/><circle cx="1725.7" cy="903.8" r="0.7"/></g>
<g filter="url(#hf8)" clip-path="url(#dc10)"><rect x="1055.8" y="942.3" width="226.1" height="173.8" fill="#808080"/><ellipse cx="1173.8" cy="1030.3" rx="60.0" ry="35.0" fill="#6b6b6b"/><ellipse cx="1103.8" cy="1070.3" rx="30.0" ry="20.0" fill="#737373"/><path d="M1143.8 1025.3 L1163.8 1005.3 L1173.8 995.3" fill="none" stroke="#4c4c4c" stroke-width="4" stroke-linecap="round" stroke-linejoin="round"/></g>
<g clip-path="url(#dc10)"><g filter="url(#voidf)" fill="#fff" stroke="#fff"><path d="M1091.8 1006.3 L1123.8 993.3 L1155.8 988.3 L1181.8 985.3 L1210.8 993.3" fill="none" stroke-width="3.6" stroke-linecap="round" stroke-linejoin="round"/><ellipse cx="1068.8" cy="958.3" rx="7.0" ry="10.0" fill="#ffffff"/><ellipse cx="1268.8" cy="974.3" rx="5.0" ry="4.0" fill="#ffffff"/><path d="M1066.8 1075.3 L1091.8 1070.3 L1114.8 1067.3 L1123.8 1074.3 L1127.8 1090.3" fill="none" stroke-width="3.2" stroke-linecap="round" stroke-linejoin="round"/><ellipse cx="1128.8" cy="1093.3" rx="8.0" ry="9.0" fill="#ffffff"/><path d="M1194.8 1067.3 L1220.8 1070.3 L1239.8 1080.3 L1252.8 1083.3 L1271.8 1078.3" fill="none" stroke-width="3.4" stroke-linecap="round" stroke-linejoin="round"/><ellipse cx="1249.8" cy="1093.3" rx="9.0" ry="9.0" fill="#ffffff"/><path d="M1139.8 1038.3 L1133.8 1054.3 L1143.8 1064.3" fill="none" stroke-width="2.4" stroke-linecap="round" stroke-linejoin="round"/></g></g>
<rect x="1068.6" y="1096.8" width="37.6" height="4.5" fill="#050505"/>
<rect x="1277.7" y="950.3" width="210.2" height="157.8" fill="#06070f"/>
<g filter="url(#sf9)" clip-path="url(#dc11)"><rect x="1269.7" y="942.3" width="226.2" height="173.8" fill="#a3a3a3"/><ellipse cx="1332.7" cy="972.3" rx="26.0" ry="18.0" fill="#8c8c8c"/><ellipse cx="1427.7" cy="1020.3" rx="36.0" ry="26.0" fill="#909090"/><ellipse cx="1352.7" cy="1045.3" rx="30.0" ry="22.0" fill="#959595"/><ellipse cx="1427.7" cy="1078.3" rx="40.0" ry="16.0" fill="#929292"/><ellipse cx="1467.7" cy="975.3" rx="16.0" ry="16.0" fill="#989898"/><path d="M1307.7 1012.3 L1337.7 995.3 L1367.7 990.3" fill="none" stroke="#afafaf" stroke-width="6" stroke-linecap="round" stroke-linejoin="round"/><path d="M1287.7 1100.3 L1327.7 1075.3 L1387.7 1058.3 L1437.7 1050.3" fill="none" stroke="#afafaf" stroke-width="7" stroke-linecap="round" stroke-linejoin="round"/><ellipse cx="1472.7" cy="1060.3" rx="14.0" ry="40.0" fill="#adadad"/></g>
<g filter="url(#sf10)" clip-path="url(#dc11)"><rect x="1269.7" y="942.3" width="226.2" height="173.8" fill="#727272"/><ellipse cx="1332.7" cy="972.3" rx="26.0" ry="18.0" fill="#666666"/><ellipse cx="1427.7" cy="1020.3" rx="36.0" ry="26.0" fill="#686868"/><ellipse cx="1352.7" cy="1045.3" rx="30.0" ry="22.0" fill="#6b6b6b"/><ellipse cx="1427.7" cy="1078.3" rx="40.0" ry="16.0" fill="#696969"/><ellipse cx="1467.7" cy="975.3" rx="16.0" ry="16.0" fill="#6c6c6c"/><path d="M1307.7 1012.3 L1337.7 995.3 L1367.7 990.3" fill="none" stroke="#767676" stroke-width="6" stroke-linecap="round" stroke-linejoin="round"/><path d="M1287.7 1100.3 L1327.7 1075.3 L1387.7 1058.3 L1437.7 1050.3" fill="none" stroke="#767676" stroke-width="7" stroke-linecap="round" stroke-linejoin="round"/><ellipse cx="1472.7" cy="1060.3" rx="14.0" ry="40.0" fill="#767676"/></g>
<rect x="1492.7" y="950.3" width="210.3" height="157.8" fill="#070a06"/>
<g filter="url(#sf11)" clip-path="url(#dc12)"><rect x="1484.7" y="942.3" width="226.3" height="173.8" fill="#000000"/><ellipse cx="1684.7" cy="956.3" rx="22.0" ry="7.0" fill="#5d5d5d"/></g>
<g fill="#86e22e"><circle cx="1663.7" cy="1029.3" r="1.8"/><circle cx="1497.7" cy="1072.3" r="2"/><circle cx="1500.7" cy="1068.3" r="0.8"/></g>
<rect x="1707.7" y="950.3" width="210.7" height="157.8" fill="#06070f"/>
<g filter="url(#sf12)" clip-path="url(#dc13)"><rect x="1699.7" y="942.3" width="226.7" height="173.8" fill="#a3a3a3"/><ellipse cx="1762.7" cy="972.3" rx="26.0" ry="18.0" fill="#8c8c8c"/><ellipse cx="1857.7" cy="1020.3" rx="36.0" ry="26.0" fill="#909090"/><ellipse cx="1782.7" cy="1045.3" rx="30.0" ry="22.0" fill="#959595"/><ellipse cx="1857.7" cy="1078.3" rx="40.0" ry="16.0" fill="#929292"/><ellipse cx="1897.7" cy="975.3" rx="16.0" ry="16.0" fill="#989898"/><path d="M1737.7 1012.3 L1767.7 995.3 L1797.7 990.3" fill="none" stroke="#afafaf" stroke-width="6" stroke-linecap="round" stroke-linejoin="round"/><path d="M1717.7 1100.3 L1757.7 1075.3 L1817.7 1058.3 L1867.7 1050.3" fill="none" stroke="#afafaf" stroke-width="7" stroke-linecap="round" stroke-linejoin="round"/><ellipse cx="1902.7" cy="1060.3" rx="14.0" ry="40.0" fill="#adadad"/></g>
<g filter="url(#sf13)" clip-path="url(#dc13)"><rect x="1699.7" y="942.3" width="226.7" height="173.8" fill="#737373"/><ellipse cx="1762.7" cy="972.3" rx="26.0" ry="18.0" fill="#676767"/><ellipse cx="1857.7" cy="1020.3" rx="36.0" ry="26.0" fill="#6a6a6a"/><ellipse cx="1782.7" cy="1045.3" rx="30.0" ry="22.0" fill="#6c6c6c"/><ellipse cx="1857.7" cy="1078.3" rx="40.0" ry="16.0" fill="#6b6b6b"/><ellipse cx="1897.7" cy="975.3" rx="16.0" ry="16.0" fill="#6e6e6e"/><path d="M1737.7 1012.3 L1767.7 995.3 L1797.7 990.3" fill="none" stroke="#787878" stroke-width="6" stroke-linecap="round" stroke-linejoin="round"/><path d="M1717.7 1100.3 L1757.7 1075.3 L1817.7 1058.3 L1867.7 1050.3" fill="none" stroke="#787878" stroke-width="7" stroke-linecap="round" stroke-linejoin="round"/><ellipse cx="1902.7" cy="1060.3" rx="14.0" ry="40.0" fill="#777777"/></g>
<g fill="#86e22e"><circle cx="1878.7" cy="1029.3" r="1.8"/><circle cx="1712.7" cy="1072.3" r="2"/><circle cx="1715.7" cy="1068.3" r="0.8"/></g>
<g filter="url(#hf14)" clip-path="url(#dc20)"><rect x="1055.8" y="1103.5" width="226.1" height="173.9" fill="#7a7a7a"/><ellipse cx="1093.8" cy="1181.5" rx="25.0" ry="40.0" fill="#666666"/><path d="M1153.8 1171.5 L1173.8 1211.5 L1193.8 1251.5" fill="none" stroke="#4c4c4c" stroke-width="5" stroke-linecap="round" stroke-linejoin="round"/><ellipse cx="1233.8" cy="1171.5" rx="30.0" ry="30.0" fill="#858585"/></g>
<g clip-path="url(#dc20)"><g filter="url(#voidf)" fill="#fff" stroke="#fff"><ellipse cx="1178.8" cy="1141.5" rx="13.0" ry="17.0" fill="#ffffff"/><ellipse cx="1249.8" cy="1121.5" rx="24.0" ry="10.0" fill="#ffffff"/><path d="M1188.8 1160.5 L1195.8 1181.5 L1203.8 1201.5" fill="none" stroke-width="3" stroke-linecap="round" stroke-linejoin="round"/><ellipse cx="1210.8" cy="1256.5" rx="9.0" ry="14.0" fill="#ffffff"/><ellipse cx="1078.8" cy="1249.5" rx="13.0" ry="8.0" fill="#ffffff"/><path d="M1152.8 1115.5 L1123.8 1134.5 L1117.8 1147.5" fill="none" stroke-width="2.4" stroke-linecap="round" stroke-linejoin="round"/><path d="M1163.8 1171.5 L1175.8 1201.5 L1188.8 1231.5" fill="none" stroke-width="2" stroke-linecap="round" stroke-linejoin="round"/></g></g>
<rect x="1068.6" y="1258.1" width="37.6" height="4.5" fill="#050505"/>
<rect x="1277.7" y="1111.5" width="210.2" height="157.9" fill="#06070f"/>
<g filter="url(#sf15)" clip-path="url(#dc21)"><rect x="1269.7" y="1103.5" width="226.2" height="173.9" fill="#686868"/><ellipse cx="1347.7" cy="1171.5" rx="30.0" ry="20.0" fill="#737373"/><ellipse cx="1427.7" cy="1191.5" rx="35.0" ry="25.0" fill="#7c7c7c"/><ellipse cx="1297.7" cy="1131.5" rx="20.0" ry="15.0" fill="#767676"/><ellipse cx="1467.7" cy="1206.5" rx="22.0" ry="30.0" fill="#818181"/><ellipse cx="1397.7" cy="1136.5" rx="40.0" ry="15.0" fill="#767676"/></g>
<g filter="url(#sf16)" clip-path="url(#dc21)"><rect x="1269.7" y="1103.5" width="226.2" height="173.9" fill="#4e4e4e"/><ellipse cx="1347.7" cy="1171.5" rx="30.0" ry="20.0" fill="#565656"/><ellipse cx="1427.7" cy="1191.5" rx="35.0" ry="25.0" fill="#5c5c5c"/><ellipse cx="1297.7" cy="1131.5" rx="20.0" ry="15.0" fill="#585858"/><ellipse cx="1467.7" cy="1206.5" rx="22.0" ry="30.0" fill="#5f5f5f"/><ellipse cx="1397.7" cy="1136.5" rx="40.0" ry="15.0" fill="#585858"/></g>
<rect x="1492.7" y="1111.5" width="210.3" height="157.9" fill="#070a06"/>
<g fill="#86e22e"><circle cx="1544.7" cy="1137.5" r="1.3"/><circle cx="1552.7" cy="1148.5" r="1"/><circle cx="1501.7" cy="1165.5" r="1"/><circle cx="1510.7" cy="1169.5" r="0.8"/><circle cx="1545.7" cy="1157.5" r="1.3"/><circle cx="1613.7" cy="1142.5" r="1.2"/><circle cx="1680.7" cy="1130.5" r="1.1"/><circle cx="1695.7" cy="1136.5" r="1.1"/><circle cx="1698.7" cy="1137.5" r="1"/><circle cx="1604.7" cy="1168.5" r="1"/><circle cx="1627.7" cy="1166.5" r="0.8"/><circle cx="1652.7" cy="1178.5" r="1.8"/><circle cx="1544.7" cy="1185.5" r="1.2"/><circle cx="1544.7" cy="1193.5" r="1.2"/><circle cx="1617.7" cy="1190.5" r="1.1"/><circle cx="1664.7" cy="1196.5" r="1"/><circle cx="1673.7" cy="1197.5" r="1.1"/><circle cx="1549.7" cy="1223.5" r="1.5"/><circle cx="1550.7" cy="1226.5" r="1.2"/><circle cx="1536.7" cy="1227.5" r="0.8"/><circle cx="1620.7" cy="1227.5" r="1.2"/><circle cx="1509.7" cy="1237.5" r="1.2"/><circle cx="1621.7" cy="1238.5" r="1.1"/><circle cx="1637.7" cy="1237.5" r="1.4"/><circle cx="1649.7" cy="1237.5" r="0.8"/><circle cx="1632.7" cy="1249.5" r="1.4"/><circle cx="1585.7" cy="1258.5" r="1.2"/><circle cx="1590.7" cy="1257.5" r="0.9"/><circle cx="1662.7" cy="1266.5" r="1.3"/><circle cx="1554.7" cy="1120.5" r="1"/><circle cx="1567.7" cy="1131.5" r="0.7"/><circle cx="1525.7" cy="1159.5" r="0.7"/></g>
<rect x="1707.7" y="1111.5" width="210.7" height="157.9" fill="#06070f"/>
<g filter="url(#sf17)" clip-path="url(#dc23)"><rect x="1699.7" y="1103.5" width="226.7" height="173.9" fill="#686868"/><ellipse cx="1777.7" cy="1171.5" rx="30.0" ry="20.0" fill="#737373"/><ellipse cx="1857.7" cy="1191.5" rx="35.0" ry="25.0" fill="#7c7c7c"/><ellipse cx="1727.7" cy="1131.5" rx="20.0" ry="15.0" fill="#767676"/><ellipse cx="1897.7" cy="1206.5" rx="22.0" ry="30.0" fill="#818181"/><ellipse cx="1827.7" cy="1136.5" rx="40.0" ry="15.0" fill="#767676"/></g>
<g filter="url(#sf18)" clip-path="url(#dc23)"><rect x="1699.7" y="1103.5" width="226.7" height="173.9" fill="#4f4f4f"/><ellipse cx="1777.7" cy="1171.5" rx="30.0" ry="20.0" fill="#575757"/><ellipse cx="1857.7" cy="1191.5" rx="35.0" ry="25.0" fill="#5d5d5d"/><ellipse cx="1727.7" cy="1131.5" rx="20.0" ry="15.0" fill="#595959"/><ellipse cx="1897.7" cy="1206.5" rx="22.0" ry="30.0" fill="#616161"/><ellipse cx="1827.7" cy="1136.5" rx="40.0" ry="15.0" fill="#595959"/></g>
<g fill="#86e22e"><circle cx="1759.7" cy="1137.5" r="1.3"/><circle cx="1767.7" cy="1148.5" r="1"/><circle cx="1716.7" cy="1165.5" r="1"/><circle cx="1725.7" cy="1169.5" r="0.8"/><circle cx="1760.7" cy="1157.5" r="1.3"/><circle cx="1828.7" cy="1142.5" r="1.2"/><circle cx="1895.7" cy="1130.5" r="1.1"/><circle cx="1910.7" cy="1136.5" r="1.1"/><circle cx="1913.7" cy="1137.5" r="1"/><circle cx="1819.7" cy="1168.5" r="1"/><circle cx="1842.7" cy="1166.5" r="0.8"/><circle cx="1867.7" cy="1178.5" r="1.8"/><circle cx="1759.7" cy="1185.5" r="1.2"/><circle cx="1759.7" cy="1193.5" r="1.2"/><circle cx="1832.7" cy="1190.5" r="1.1"/><circle cx="1879.7" cy="1196.5" r="1"/><circle cx="1888.7" cy="1197.5" r="1.1"/><circle cx="1764.7" cy="1223.5" r="1.5"/><circle cx="1765.7" cy="1226.5" r="1.2"/><circle cx="1751.7" cy="1227.5" r="0.8"/><circle cx="1835.7" cy="1227.5" r="1.2"/><circle cx="1724.7" cy="1237.5" r="1.2"/><circle cx="1836.7" cy="1238.5" r="1.1"/><circle cx="1852.7" cy="1237.5" r="1.4"/><circle cx="1864.7" cy="1237.5" r="0.8"/><circle cx="1847.7" cy="1249.5" r="1.4"/><circle cx="1800.7" cy="1258.5" r="1.2"/><circle cx="1805.7" cy="1257.5" r="0.9"/><circle cx="1877.7" cy="1266.5" r="1.3"/><circle cx="1769.7" cy="1120.5" r="1"/><circle cx="1782.7" cy="1131.5" r="0.7"/><circle cx="1740.7" cy="1159.5" r="0.7"/></g>
<g filter="url(#hf19)" clip-path="url(#dc30)"><rect x="1055.8" y="1264.8" width="226.1" height="174.1" fill="#858585"/><ellipse cx="1153.8" cy="1342.8" rx="50.0" ry="40.0" fill="#707070"/><ellipse cx="1233.8" cy="1392.8" rx="30.0" ry="30.0" fill="#999999"/><ellipse cx="1093.8" cy="1402.8" rx="30.0" ry="25.0" fill="#949494"/></g>
<g clip-path="url(#dc30)"><g filter="url(#voidf)" fill="#fff" stroke="#fff"><path d="M1235.8 1340.8 L1238.8 1362.8 L1231.8 1382.8" fill="none" stroke-width="2" stroke-linecap="round" stroke-linejoin="round"/><path d="M1213.8 1392.8 L1223.8 1412.8" fill="none" stroke-width="1.6" stroke-linecap="round" stroke-linejoin="round"/></g></g>
<rect x="1068.6" y="1419.6" width="37.6" height="4.5" fill="#050505"/>
<rect x="1277.7" y="1272.8" width="210.2" height="158.1" fill="#06070f"/>
<g filter="url(#sf20)" clip-path="url(#dc31)"><rect x="1269.7" y="1264.8" width="226.2" height="174.1" fill="#9f9f9f"/><ellipse cx="1297.7" cy="1412.8" rx="45.0" ry="30.0" fill="#838383"/><ellipse cx="1407.7" cy="1382.8" rx="30.0" ry="18.0" fill="#8e8e8e"/><ellipse cx="1482.7" cy="1412.8" rx="22.0" ry="30.0" fill="#808080"/><ellipse cx="1367.7" cy="1312.8" rx="60.0" ry="30.0" fill="#a5a5a5"/><path d="M1337.7 1422.8 L1387.7 1400.8 L1437.7 1392.8 L1472.7 1367.8" fill="none" stroke="#a9a9a9" stroke-width="8" stroke-linecap="round" stroke-linejoin="round"/><ellipse cx="1287.7" cy="1332.8" rx="12.0" ry="30.0" fill="#909090"/></g>
<g filter="url(#sf21)" clip-path="url(#dc31)"><rect x="1269.7" y="1264.8" width="226.2" height="174.1" fill="#707070"/><ellipse cx="1297.7" cy="1412.8" rx="45.0" ry="30.0" fill="#616161"/><ellipse cx="1407.7" cy="1382.8" rx="30.0" ry="18.0" fill="#676767"/><ellipse cx="1482.7" cy="1412.8" rx="22.0" ry="30.0" fill="#5f5f5f"/><ellipse cx="1367.7" cy="1312.8" rx="60.0" ry="30.0" fill="#737373"/><path d="M1337.7 1422.8 L1387.7 1400.8 L1437.7 1392.8 L1472.7 1367.8" fill="none" stroke="#747474" stroke-width="8" stroke-linecap="round" stroke-linejoin="round"/><ellipse cx="1287.7" cy="1332.8" rx="12.0" ry="30.0" fill="#686868"/></g>
<rect x="1492.7" y="1272.8" width="210.3" height="158.1" fill="#070a06"/>
<g filter="url(#sf22)" clip-path="url(#dc32)"><rect x="1484.7" y="1264.8" width="226.3" height="174.1" fill="#000000"/><path d="M1492.7 1272.8 L1638.7 1272.8 L1652.7 1282.8 L1668.7 1298.8 L1680.7 1317.8 L1688.7 1342.8 L1690.7 1372.8 L1684.7 1397.8 L1686.7 1430.8 L1548.7 1430.8 L1536.7 1412.8 L1526.7 1396.8 L1522.7 1384.8 L1506.7 1380.8 L1492.7 1376.8Z" fill="#a7a7a7"/><ellipse cx="1522.7" cy="1320.8" rx="22.0" ry="6.0" fill="#676767" transform="rotate(8 1522.7 1320.8)"/><ellipse cx="1550.7" cy="1368.8" rx="18.0" ry="9.0" fill="#626262" transform="rotate(-10 1550.7 1368.8)"/><ellipse cx="1626.7" cy="1324.8" rx="11.0" ry="14.0" fill="#676767" transform="rotate(20 1626.7 1324.8)"/><ellipse cx="1624.7" cy="1370.8" rx="8.0" ry="16.0" fill="#6b6b6b" transform="rotate(10 1624.7 1370.8)"/><ellipse cx="1660.7" cy="1314.8" rx="4.0" ry="14.0" fill="#787878" transform="rotate(-35 1660.7 1314.8)"/><ellipse cx="1562.7" cy="1302.8" rx="10.0" ry="5.0" fill="#838383"/><ellipse cx="1592.7" cy="1342.8" rx="6.0" ry="10.0" fill="#8c8c8c"/></g>
<g fill="#86e22e"><circle cx="1535.7" cy="1350.8" r="1.5"/></g>
<rect x="1707.7" y="1272.8" width="210.7" height="158.1" fill="#06070f"/>
<g filter="url(#sf23)" clip-path="url(#dc33)"><rect x="1699.7" y="1264.8" width="226.7" height="174.1" fill="#979797"/><ellipse cx="1727.7" cy="1412.8" rx="45.0" ry="30.0" fill="#7e7e7e"/><ellipse cx="1912.7" cy="1372.8" rx="14.0" ry="70.0" fill="#818181"/><ellipse cx="1912.7" cy="1292.8" rx="14.0" ry="24.0" fill="#707070"/><ellipse cx="1737.7" cy="1320.8" rx="22.0" ry="6.0" fill="#5d5d5d" transform="rotate(8 1737.7 1320.8)"/><ellipse cx="1765.7" cy="1368.8" rx="18.0" ry="9.0" fill="#595959" transform="rotate(-10 1765.7 1368.8)"/><ellipse cx="1841.7" cy="1324.8" rx="11.0" ry="14.0" fill="#5d5d5d" transform="rotate(20 1841.7 1324.8)"/><ellipse cx="1839.7" cy="1370.8" rx="8.0" ry="16.0" fill="#606060" transform="rotate(10 1839.7 1370.8)"/></g>
<g filter="url(#sf24)" clip-path="url(#dc33)"><rect x="1699.7" y="1264.8" width="226.7" height="174.1" fill="#000000"/><path d="M1707.7 1272.8 L1853.7 1272.8 L1867.7 1282.8 L1883.7 1298.8 L1895.7 1317.8 L1903.7 1342.8 L1905.7 1372.8 L1899.7 1397.8 L1901.7 1430.8 L1763.7 1430.8 L1751.7 1412.8 L1741.7 1396.8 L1737.7 1384.8 L1721.7 1380.8 L1707.7 1376.8Z" fill="#929292"/><ellipse cx="1737.7" cy="1320.8" rx="22.0" ry="6.0" fill="#676767" transform="rotate(8 1737.7 1320.8)"/><ellipse cx="1765.7" cy="1368.8" rx="18.0" ry="9.0" fill="#626262" transform="rotate(-10 1765.7 1368.8)"/><ellipse cx="1841.7" cy="1324.8" rx="11.0" ry="14.0" fill="#676767" transform="rotate(20 1841.7 1324.8)"/><ellipse cx="1839.7" cy="1370.8" rx="8.0" ry="16.0" fill="#6b6b6b" transform="rotate(10 1839.7 1370.8)"/><ellipse cx="1875.7" cy="1314.8" rx="4.0" ry="14.0" fill="#787878" transform="rotate(-35 1875.7 1314.8)"/><ellipse cx="1777.7" cy="1302.8" rx="10.0" ry="5.0" fill="#838383"/><ellipse cx="1807.7" cy="1342.8" rx="6.0" ry="10.0" fill="#8c8c8c"/></g>
<g fill="#86e22e"><circle cx="1750.7" cy="1350.8" r="1.5"/></g>
<text transform="translate(983.3 671.0) scale(1 1.04)" font-size="51">D</text>
<text transform="translate(1167.6 769.6) scale(1 1.04)" font-size="30" text-anchor="middle">HE</text>
<text transform="translate(1382.5 769.6) scale(1 1.04)" font-size="30" text-anchor="middle">DAPI</text>
<text transform="translate(1600.0 769.6) scale(1 1.04)" font-size="30" text-anchor="middle" textLength="99.8" lengthAdjust="spacing">TUNEL</text>
<text transform="translate(1812.6 769.6) scale(1 1.04)" font-size="30" text-anchor="middle" textLength="108.5" lengthAdjust="spacing">MERGE</text>
<text transform="translate(1016.9 866.2) rotate(-90) scale(1 1.04)" font-size="30" text-anchor="middle" textLength="149.6" lengthAdjust="spacing">shSNAP23</text>
<text transform="translate(1052.8 866.2) rotate(-90) scale(1 1.04)" font-size="30" text-anchor="middle" textLength="95.3" lengthAdjust="spacing">+oeNC</text>
<text transform="translate(1016.9 1027.5) rotate(-90) scale(1 1.04)" font-size="30" text-anchor="middle" textLength="149.6" lengthAdjust="spacing">shSNAP23</text>
<text transform="translate(1052.8 1027.5) rotate(-90) scale(1 1.04)" font-size="30" text-anchor="middle" textLength="132.6" lengthAdjust="spacing">+oeTFAM</text>
<text transform="translate(1016.9 1188.8) rotate(-90) scale(1 1.04)" font-size="30" text-anchor="middle" textLength="149.6" lengthAdjust="spacing">shSNAP23</text>
<text transform="translate(1052.8 1188.8) rotate(-90) scale(1 1.04)" font-size="30" text-anchor="middle" textLength="95.3" lengthAdjust="spacing">+oeNC</text>
<text transform="translate(1016.9 1354.6) rotate(-90) scale(1 1.04)" font-size="30" text-anchor="middle" textLength="149.6" lengthAdjust="spacing">shSNAP23</text>
<text transform="translate(1052.8 1354.6) rotate(-90) scale(1 1.04)" font-size="30" text-anchor="middle" textLength="132.6" lengthAdjust="spacing">+oeTFAM</text>
<line x1="1934.2" y1="784.9" x2="1934.2" y2="1103.8" stroke="#0d0b0a" stroke-width="3.2"/>
<line x1="1934.2" y1="1113.9" x2="1934.2" y2="1434.6" stroke="#0d0b0a" stroke-width="3.2"/>
<text transform="translate(1950.3 914.3) rotate(90) scale(1 1.04)" font-size="30" textLength="86.8" lengthAdjust="spacing" x="-1.2">OXA -</text>
<text transform="translate(1950.3 1228.7) rotate(90) scale(1 1.04)" font-size="30" textLength="93.5" lengthAdjust="spacing" x="-1.2">OXA +</text></g>
<g id="pe"><text transform="translate(3.3 1590.2) scale(1 1.04)" font-size="51">E</text>
<rect x="289.9" y="1579.3" width="25.1" height="18.6" fill="#fff" stroke="#0d0b0a" stroke-width="3"/>
<rect x="289.9" y="1613.8" width="25.1" height="19.8" fill="#868ac8" stroke="#0d0b0a" stroke-width="3"/>
<text transform="translate(341.8 1597.6) scale(1 1.04)" font-size="30" textLength="243.2" lengthAdjust="spacing" x="-1.2">shSNAP23+oeNC</text>
<text transform="translate(341.8 1632.3) scale(1 1.04)" font-size="30" textLength="284.4" lengthAdjust="spacing" x="-1.2">shSNAP23+oeTFAM</text>
<text transform="translate(467.0 1683.3) scale(1 1.04)" font-size="30" text-anchor="middle" textLength="192.8" lengthAdjust="spacing">CDX (TUNEL)</text>
<line x1="342.8" y1="2101.5" x2="342.8" y2="2111.8" stroke="#0d0b0a" stroke-width="3"/>
<line x1="327.8" y1="2101.5" x2="357.8" y2="2101.5" stroke="#0d0b0a" stroke-width="3"/>
<rect x="314.7" y="2111.5" width="56.2" height="21.8" fill="#fff" stroke="#0d0b0a" stroke-width="3.4"/>
<line x1="433.0" y1="2106.0" x2="433.0" y2="2116.4" stroke="#0d0b0a" stroke-width="3"/>
<line x1="418.0" y1="2106.0" x2="448.0" y2="2106.0" stroke="#0d0b0a" stroke-width="3"/>
<rect x="404.9" y="2116.1" width="56.2" height="17.2" fill="#868ac8" stroke="#0d0b0a" stroke-width="3.4"/>
<line x1="523.2" y1="2066.2" x2="523.2" y2="2083.2" stroke="#0d0b0a" stroke-width="3"/>
<line x1="508.2" y1="2066.2" x2="538.2" y2="2066.2" stroke="#0d0b0a" stroke-width="3"/>
<rect x="495.1" y="2082.9" width="56.2" height="50.4" fill="#fff" stroke="#0d0b0a" stroke-width="3.4"/>
<line x1="613.3" y1="1875.5" x2="613.3" y2="1917.4" stroke="#0d0b0a" stroke-width="3"/>
<line x1="598.3" y1="1875.5" x2="628.3" y2="1875.5" stroke="#0d0b0a" stroke-width="3"/>
<rect x="585.2" y="1917.1" width="56.2" height="216.2" fill="#868ac8" stroke="#0d0b0a" stroke-width="3.4"/>
<circle cx="320.9" cy="2104.6" r="7.4" fill="#fff" stroke="#0d0b0a" stroke-width="3"/>
<circle cx="336.0" cy="2100.9" r="7.4" fill="#fff" stroke="#0d0b0a" stroke-width="3"/>
<circle cx="366.2" cy="2110.2" r="7.4" fill="#fff" stroke="#0d0b0a" stroke-width="3"/>
<circle cx="350.8" cy="2113.8" r="7.4" fill="#fff" stroke="#0d0b0a" stroke-width="3"/>
<circle cx="320.9" cy="2120.9" r="7.4" fill="#fff" stroke="#0d0b0a" stroke-width="3"/>
<circle cx="411.4" cy="2104.6" r="7.4" fill="#fff" stroke="#0d0b0a" stroke-width="3"/>
<circle cx="426.2" cy="2108.6" r="7.4" fill="#fff" stroke="#0d0b0a" stroke-width="3"/>
<circle cx="455.4" cy="2115.4" r="7.4" fill="#fff" stroke="#0d0b0a" stroke-width="3"/>
<circle cx="440.0" cy="2120.9" r="7.4" fill="#fff" stroke="#0d0b0a" stroke-width="3"/>
<circle cx="410.8" cy="2123.1" r="7.4" fill="#fff" stroke="#0d0b0a" stroke-width="3"/>
<circle cx="500.9" cy="2071.4" r="7.4" fill="#fff" stroke="#0d0b0a" stroke-width="3"/>
<circle cx="523.1" cy="2062.5" r="7.4" fill="#fff" stroke="#0d0b0a" stroke-width="3"/>
<circle cx="546.2" cy="2077.8" r="7.4" fill="#fff" stroke="#0d0b0a" stroke-width="3"/>
<circle cx="533.8" cy="2093.2" r="7.4" fill="#fff" stroke="#0d0b0a" stroke-width="3"/>
<circle cx="511.4" cy="2100.0" r="7.4" fill="#fff" stroke="#0d0b0a" stroke-width="3"/>
<circle cx="613.5" cy="1865.6" r="7.4" fill="#fff" stroke="#0d0b0a" stroke-width="3"/>
<circle cx="591.2" cy="1903.6" r="7.4" fill="#fff" stroke="#0d0b0a" stroke-width="3"/>
<circle cx="635.2" cy="1895.4" r="7.4" fill="#fff" stroke="#0d0b0a" stroke-width="3"/>
<circle cx="613.5" cy="1944.2" r="7.4" fill="#fff" stroke="#0d0b0a" stroke-width="3"/>
<circle cx="613.5" cy="1966.7" r="7.4" fill="#fff" stroke="#0d0b0a" stroke-width="3"/>
<line x1="283.8" y1="1742.0" x2="283.8" y2="2135.5" stroke="#0d0b0a" stroke-width="3.3"/>
<line x1="266.0" y1="2133.3" x2="676.0" y2="2133.3" stroke="#0d0b0a" stroke-width="3"/>
<line x1="265.9" y1="1743.5" x2="283.8" y2="1743.5" stroke="#0d0b0a" stroke-width="3"/>
<text transform="translate(262.6 1754.1) scale(1 1.04)" font-size="30" text-anchor="end">300</text>
<line x1="265.9" y1="1873.4" x2="283.8" y2="1873.4" stroke="#0d0b0a" stroke-width="3"/>
<text transform="translate(262.6 1884.0) scale(1 1.04)" font-size="30" text-anchor="end">200</text>
<line x1="265.9" y1="2003.4" x2="283.8" y2="2003.4" stroke="#0d0b0a" stroke-width="3"/>
<text transform="translate(262.6 2014.0) scale(1 1.04)" font-size="30" text-anchor="end">100</text>
<text transform="translate(262.6 2143.9) scale(1 1.04)" font-size="30" text-anchor="end">0</text>
<line x1="342.8" y1="2133.3" x2="342.8" y2="2150.8" stroke="#0d0b0a" stroke-width="3"/>
<line x1="433.0" y1="2133.3" x2="433.0" y2="2150.8" stroke="#0d0b0a" stroke-width="3"/>
<line x1="523.2" y1="2133.3" x2="523.2" y2="2150.8" stroke="#0d0b0a" stroke-width="3"/>
<line x1="613.3" y1="2133.3" x2="613.3" y2="2150.8" stroke="#0d0b0a" stroke-width="3"/>
<text transform="translate(187.7 1945.0) rotate(-90) scale(1 1.04)" font-size="30" text-anchor="middle" textLength="235.6" lengthAdjust="spacing">TUNEL (H-score)</text>
<text transform="translate(220.6 2193.8) scale(1 1.04)" font-size="30" textLength="61.9" lengthAdjust="spacing" x="-1.2">OXA</text>
<line x1="333.8" y1="2185.4" x2="351.8" y2="2185.4" stroke="#0d0b0a" stroke-width="3.2"/>
<line x1="424.0" y1="2185.4" x2="442.0" y2="2185.4" stroke="#0d0b0a" stroke-width="3.2"/>
<line x1="515.2" y1="2185.4" x2="531.2" y2="2185.4" stroke="#0d0b0a" stroke-width="3.6"/>
<line x1="523.2" y1="2177.4" x2="523.2" y2="2193.4" stroke="#0d0b0a" stroke-width="3.6"/>
<line x1="605.3" y1="2185.4" x2="621.3" y2="2185.4" stroke="#0d0b0a" stroke-width="3.6"/>
<line x1="613.3" y1="2177.4" x2="613.3" y2="2193.4" stroke="#0d0b0a" stroke-width="3.6"/>
<line x1="314.4" y1="1743.5" x2="641.0" y2="1743.5" stroke="#0d0b0a" stroke-width="3"/>
<line x1="423.2" y1="1794.3" x2="642.5" y2="1794.3" stroke="#0d0b0a" stroke-width="3"/>
<line x1="497.0" y1="1846.3" x2="642.5" y2="1846.3" stroke="#0d0b0a" stroke-width="3"/>
<text transform="translate(387.7 1735.8) scale(1 1.04)" font-size="30"><tspan font-style="italic">P</tspan>=1.2×10<tspan font-size="22.2" dy="-12.5">-9</tspan></text>
<text transform="translate(454.1 1786.6) scale(1 1.04)" font-size="30"><tspan font-style="italic">P</tspan>=8.4×10<tspan font-size="22.2" dy="-12.5">-10</tspan></text>
<text transform="translate(504.7 1837.8) scale(1 1.04)" font-size="30"><tspan font-style="italic">P</tspan>=1.2×10<tspan font-size="22.2" dy="-12.5">-8</tspan></text></g>
<g id="pf"><text transform="translate(878.6 1590.9) scale(1 1.04)" font-size="51">F</text>
<rect x="1000.3" y="1582.3" width="26.2" height="19.8" fill="#fff" stroke="#0d0b0a" stroke-width="3.2"/>
<rect x="1000.3" y="1616.6" width="26.2" height="20.2" fill="#868ac8" stroke="#0d0b0a" stroke-width="3.2"/>
<text transform="translate(1053.7 1600.4) scale(1 1.04)" font-size="30" textLength="244.2" lengthAdjust="spacing" x="-1.2">shSNAP23+oeNC</text>
<text transform="translate(1053.7 1636.2) scale(1 1.04)" font-size="30" textLength="279.2" lengthAdjust="spacing" x="-1.2">shSNAP23+oeTFAM</text>
<text transform="translate(1182.9 1682.9) scale(1 1.04)" font-size="30" text-anchor="middle" textLength="295.2" lengthAdjust="spacing">HT29 s.c. CDX model</text>
<line x1="1054.6" y1="2019.0" x2="1054.6" y2="2037.1" stroke="#0d0b0a" stroke-width="4"/>
<line x1="1039.6" y1="2019.0" x2="1069.6" y2="2019.0" stroke="#0d0b0a" stroke-width="4"/>
<rect x="1026.7" y="2037.2" width="55.8" height="95.8" fill="#fff" stroke="#0d0b0a" stroke-width="4.2"/>
<line x1="1144.8" y1="1953.2" x2="1144.8" y2="1975.3" stroke="#0d0b0a" stroke-width="4"/>
<line x1="1129.8" y1="1953.2" x2="1159.8" y2="1953.2" stroke="#0d0b0a" stroke-width="4"/>
<rect x="1116.9" y="1975.4" width="55.8" height="157.6" fill="#868ac8" stroke="#0d0b0a" stroke-width="4.2"/>
<line x1="1235.0" y1="1954.5" x2="1235.0" y2="1976.2" stroke="#0d0b0a" stroke-width="4"/>
<line x1="1220.0" y1="1954.5" x2="1250.0" y2="1954.5" stroke="#0d0b0a" stroke-width="4"/>
<rect x="1207.1" y="1976.3" width="55.8" height="156.7" fill="#fff" stroke="#0d0b0a" stroke-width="4.2"/>
<line x1="1325.3" y1="1908.6" x2="1325.3" y2="1933.7" stroke="#0d0b0a" stroke-width="4"/>
<line x1="1310.3" y1="1908.6" x2="1340.3" y2="1908.6" stroke="#0d0b0a" stroke-width="4"/>
<rect x="1297.4" y="1933.8" width="55.8" height="199.2" fill="#868ac8" stroke="#0d0b0a" stroke-width="4.2"/>
<circle cx="1032.9" cy="2012.9" r="7.4" fill="#fff" stroke="#0d0b0a" stroke-width="3.7"/>
<circle cx="1032.9" cy="2031.4" r="7.4" fill="#fff" stroke="#0d0b0a" stroke-width="3.7"/>
<circle cx="1077.5" cy="2029.2" r="7.4" fill="#fff" stroke="#0d0b0a" stroke-width="3.7"/>
<circle cx="1077.5" cy="2048.3" r="7.4" fill="#fff" stroke="#0d0b0a" stroke-width="3.7"/>
<circle cx="1032.9" cy="2054.5" r="7.4" fill="#fff" stroke="#0d0b0a" stroke-width="3.7"/>
<circle cx="1144.6" cy="1952.9" r="7.4" fill="#fff" stroke="#0d0b0a" stroke-width="3.7"/>
<circle cx="1123.1" cy="1964.6" r="7.4" fill="#fff" stroke="#0d0b0a" stroke-width="3.7"/>
<circle cx="1167.7" cy="1968.6" r="7.4" fill="#fff" stroke="#0d0b0a" stroke-width="3.7"/>
<circle cx="1144.6" cy="1976.3" r="7.4" fill="#fff" stroke="#0d0b0a" stroke-width="3.7"/>
<circle cx="1144.6" cy="2006.2" r="7.4" fill="#fff" stroke="#0d0b0a" stroke-width="3.7"/>
<circle cx="1236.0" cy="1953.2" r="7.4" fill="#fff" stroke="#0d0b0a" stroke-width="3.7"/>
<circle cx="1257.8" cy="1962.2" r="7.4" fill="#fff" stroke="#0d0b0a" stroke-width="3.7"/>
<circle cx="1236.0" cy="1969.8" r="7.4" fill="#fff" stroke="#0d0b0a" stroke-width="3.7"/>
<circle cx="1246.2" cy="1993.8" r="7.4" fill="#fff" stroke="#0d0b0a" stroke-width="3.7"/>
<circle cx="1224.6" cy="2000.9" r="7.4" fill="#fff" stroke="#0d0b0a" stroke-width="3.7"/>
<circle cx="1304.0" cy="1904.0" r="7.4" fill="#fff" stroke="#0d0b0a" stroke-width="3.7"/>
<circle cx="1348.6" cy="1918.5" r="7.4" fill="#fff" stroke="#0d0b0a" stroke-width="3.7"/>
<circle cx="1304.0" cy="1931.4" r="7.4" fill="#fff" stroke="#0d0b0a" stroke-width="3.7"/>
<circle cx="1348.6" cy="1952.3" r="7.4" fill="#fff" stroke="#0d0b0a" stroke-width="3.7"/>
<circle cx="1304.0" cy="1962.5" r="7.4" fill="#fff" stroke="#0d0b0a" stroke-width="3.7"/>
<line x1="994.7" y1="1737.9" x2="994.7" y2="2135.6" stroke="#0d0b0a" stroke-width="4.4"/>
<line x1="977.2" y1="2133.0" x2="1389.2" y2="2133.0" stroke="#0d0b0a" stroke-width="4"/>
<line x1="977.2" y1="1739.9" x2="994.7" y2="1739.9" stroke="#0d0b0a" stroke-width="4"/>
<text transform="translate(974.6 1751.7) scale(1 1.04)" font-size="30" text-anchor="end">4</text>
<line x1="977.2" y1="1838.2" x2="994.7" y2="1838.2" stroke="#0d0b0a" stroke-width="4"/>
<text transform="translate(974.6 1850.0) scale(1 1.04)" font-size="30" text-anchor="end">3</text>
<line x1="977.2" y1="1936.5" x2="994.7" y2="1936.5" stroke="#0d0b0a" stroke-width="4"/>
<text transform="translate(974.6 1948.2) scale(1 1.04)" font-size="30" text-anchor="end">2</text>
<line x1="977.2" y1="2034.7" x2="994.7" y2="2034.7" stroke="#0d0b0a" stroke-width="4"/>
<text transform="translate(974.6 2046.5) scale(1 1.04)" font-size="30" text-anchor="end">1</text>
<text transform="translate(974.6 2144.8) scale(1 1.04)" font-size="30" text-anchor="end">0</text>
<line x1="1054.6" y1="2133.0" x2="1054.6" y2="2149.8" stroke="#0d0b0a" stroke-width="4.1"/>
<line x1="1144.8" y1="2133.0" x2="1144.8" y2="2149.8" stroke="#0d0b0a" stroke-width="4.1"/>
<line x1="1235.0" y1="2133.0" x2="1235.0" y2="2149.8" stroke="#0d0b0a" stroke-width="4.1"/>
<line x1="1325.3" y1="2133.0" x2="1325.3" y2="2149.8" stroke="#0d0b0a" stroke-width="4.1"/>
<text transform="translate(900.6 1944.2) rotate(-90) scale(1 1.04)" font-size="30" text-anchor="middle" textLength="380.1" lengthAdjust="spacing">Relative ROS level in tissue</text>
<text transform="translate(931.4 2193.8) scale(1 1.04)" font-size="30" textLength="62.8" lengthAdjust="spacing" x="-1.2">OXA</text>
<line x1="1045.6" y1="2185.4" x2="1063.6" y2="2185.4" stroke="#0d0b0a" stroke-width="3.2"/>
<line x1="1135.8" y1="2185.4" x2="1153.8" y2="2185.4" stroke="#0d0b0a" stroke-width="3.2"/>
<line x1="1227.0" y1="2185.4" x2="1243.0" y2="2185.4" stroke="#0d0b0a" stroke-width="3.6"/>
<line x1="1235.0" y1="2177.4" x2="1235.0" y2="2193.4" stroke="#0d0b0a" stroke-width="3.6"/>
<line x1="1317.3" y1="2185.4" x2="1333.3" y2="2185.4" stroke="#0d0b0a" stroke-width="3.6"/>
<line x1="1325.3" y1="2177.4" x2="1325.3" y2="2193.4" stroke="#0d0b0a" stroke-width="3.6"/>
<line x1="1026.2" y1="1744.7" x2="1353.1" y2="1744.7" stroke="#0d0b0a" stroke-width="3.4"/>
<line x1="1113.3" y1="1800.4" x2="1357.3" y2="1800.4" stroke="#0d0b0a" stroke-width="3.4"/>
<line x1="1210.3" y1="1855.4" x2="1355.9" y2="1855.4" stroke="#0d0b0a" stroke-width="3.4"/>
<line x1="1022.3" y1="1883.0" x2="1265.3" y2="1883.0" stroke="#0d0b0a" stroke-width="3.4"/>
<line x1="1026.2" y1="1934.8" x2="1172.3" y2="1934.8" stroke="#0d0b0a" stroke-width="3.4"/>
<text transform="translate(1113.3 1735.6) scale(1 1.04)" font-size="30"><tspan font-style="italic">P</tspan>=3.6×10<tspan font-size="22.2" dy="-12.5">-6</tspan></text>
<text transform="translate(1169.9 1792.2) scale(1 1.04)" font-size="30" textLength="128.1" lengthAdjust="spacing" x="-1.2"><tspan font-style="italic">P</tspan>=0.0312</text>
<text transform="translate(1224.0 1847.1) scale(1 1.04)" font-size="30" textLength="128.3" lengthAdjust="spacing" x="-1.2"><tspan font-style="italic">P</tspan>=0.0224</text>
<text transform="translate(1079.0 1874.6) scale(1 1.04)" font-size="30" textLength="127.0" lengthAdjust="spacing" x="-1.2"><tspan font-style="italic">P</tspan>=0.0014</text>
<text transform="translate(1040.0 1926.2) scale(1 1.04)" font-size="30" textLength="127.1" lengthAdjust="spacing" x="-1.2"><tspan font-style="italic">P</tspan>=0.0010</text></g>
</svg>
</body></html>
